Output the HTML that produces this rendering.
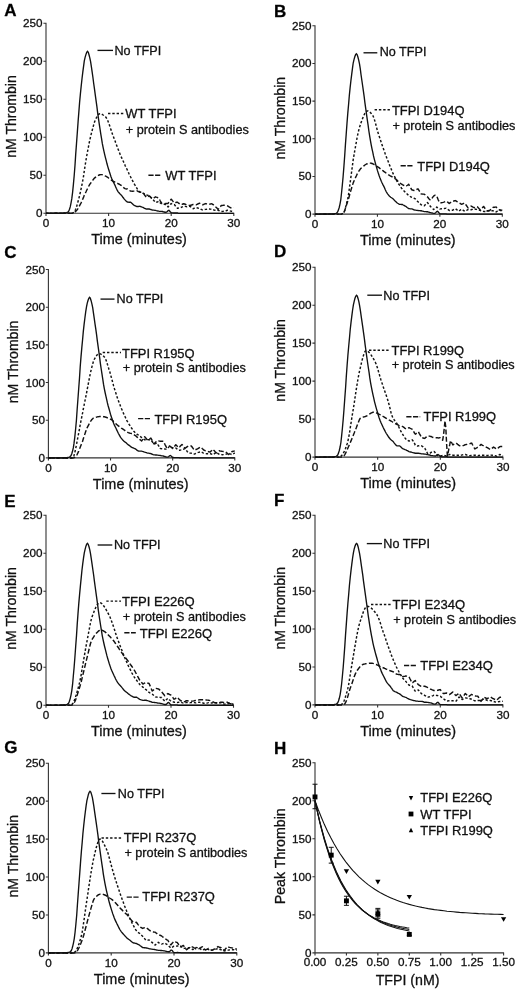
<!DOCTYPE html>
<html lang="en"><head><meta charset="utf-8"><title>Thrombin generation figure</title>
<style>html,body{margin:0;padding:0;background:#fff}body{width:520px;height:990px;overflow:hidden}svg{display:block;will-change:transform}</style>
</head><body>
<svg width="520" height="990" viewBox="0 0 520 990">
<rect width="520" height="990" fill="#fff"/>
<style>text{stroke:#111;stroke-width:0.3px;stroke-linejoin:round}</style>
<g font-family="'Liberation Sans', Arial, Helvetica, sans-serif" fill="#111" stroke="none">
<g id="panel-A">
<path d="M46.00 22.80V213.30H234.30M43.40 213.30H46.00M43.40 175.30H46.00M43.40 137.30H46.00M43.40 99.30H46.00M43.40 61.30H46.00M43.40 23.30H46.00M46.00 213.30v2.6M108.60 213.30v2.6M171.20 213.30v2.6M233.80 213.30v2.6" fill="none" stroke="#333" stroke-width="1.1"/>
<text x="42.50" y="217.30" font-size="11.7" text-anchor="end">0</text>
<text x="42.50" y="179.30" font-size="11.7" text-anchor="end">50</text>
<text x="42.50" y="141.30" font-size="11.7" text-anchor="end">100</text>
<text x="42.50" y="103.30" font-size="11.7" text-anchor="end">150</text>
<text x="42.50" y="65.30" font-size="11.7" text-anchor="end">200</text>
<text x="42.50" y="27.30" font-size="11.7" text-anchor="end">250</text>
<text x="46.00" y="227.10" font-size="11.7" text-anchor="middle">0</text>
<text x="108.60" y="227.10" font-size="11.7" text-anchor="middle">10</text>
<text x="171.20" y="227.10" font-size="11.7" text-anchor="middle">20</text>
<text x="233.80" y="227.10" font-size="11.7" text-anchor="middle">30</text>
<text x="139.05" y="244.40" font-size="14.4" text-anchor="middle" textLength="95.8" lengthAdjust="spacingAndGlyphs">Time (minutes)</text>
<text transform="translate(15.50 116.50) rotate(-90)" font-size="14.2" text-anchor="middle" textLength="82.6" lengthAdjust="spacingAndGlyphs">nM Thrombin</text>
<text x="4.3" y="16.3" font-size="17" font-weight="bold" fill="#000">A</text>
<path d="M46.0 213.3L46.8 213.3L47.6 213.3L48.3 213.3L49.1 213.3L49.9 213.3L50.7 213.3L51.5 213.2L52.3 213.2L53.0 213.2L53.8 213.2L54.6 213.2L55.4 213.2L56.2 213.2L57.0 213.2L57.7 213.2L58.5 213.2L59.3 213.2L60.1 213.2L60.9 213.1L61.7 213.1L62.4 213.1L63.2 213.1L64.0 213.1L64.8 213.0L65.6 212.9L66.3 212.8L67.1 212.5L67.9 212.0L68.7 211.2L69.5 209.3L70.3 206.7L71.0 203.2L71.8 198.7L72.6 192.3L73.4 184.4L74.2 175.5L75.0 165.3L75.7 154.4L76.5 143.6L77.3 132.7L78.1 121.6L78.9 111.4L79.6 102.4L80.4 93.9L81.2 86.0L82.0 78.7L82.8 72.2L83.6 66.1L84.3 60.9L85.1 57.4L85.9 54.6L86.7 52.4L87.5 51.4L88.3 52.3L89.0 54.8L89.8 57.9L90.6 61.7L91.4 66.8L92.2 72.4L93.0 78.0L93.7 83.5L94.5 89.2L95.3 95.1L96.1 100.8L96.9 106.6L97.6 112.4L98.4 118.1L99.2 123.6L100.0 128.9L100.8 134.1L101.6 138.9L102.3 143.4L103.1 147.4L103.9 151.1L104.7 154.6L105.5 157.8L106.3 160.9L107.0 163.8L107.8 166.6L108.6 169.2L109.4 171.8L110.2 174.2L110.9 176.4L111.7 178.4L112.5 180.2L113.3 181.9L114.1 183.5L114.9 185.1L115.6 186.8L116.4 188.5L117.2 190.1L118.0 191.6L118.8 192.6L119.6 193.4L120.3 194.2L121.1 194.9L121.9 195.9L122.7 197.0L123.5 198.0L124.3 199.1L125.0 199.9L125.8 200.7L126.6 201.4L127.4 202.0L128.2 202.1L128.9 202.2L129.7 202.2L130.5 202.2L131.3 202.8L132.1 203.5L132.9 204.2L133.6 205.0L134.4 205.4L135.2 205.8L136.0 206.2L136.8 206.6L137.6 206.5L138.3 206.5L139.1 206.4L139.9 206.3L140.7 206.6L141.5 206.9L142.2 207.2L143.0 207.4L143.8 207.9L144.6 208.3L145.4 208.7L146.2 209.1L146.9 209.0L147.7 209.0L148.5 209.0L149.3 209.0L150.1 209.3L150.9 209.5L151.6 209.8L152.4 210.0L153.2 210.1L154.0 210.2L154.8 210.3L155.6 210.4L156.3 210.6L157.1 210.8L157.9 211.0L158.7 211.2L159.5 211.3L160.2 211.3L161.0 211.3L161.8 211.3L162.6 211.5L163.4 211.8L164.2 212.0L164.9 212.2L165.7 212.2L166.5 212.1L167.3 211.4L168.1 210.5L168.9 210.3L169.6 211.0L170.4 212.0L171.2 212.6L172.0 212.8L172.8 212.9L173.5 213.0L174.3 213.0L175.1 213.0L175.9 213.0L176.7 213.0L177.5 213.0L178.2 213.3L179.0 213.3L179.8 213.3L180.6 213.3L181.4 213.3L182.2 213.3L182.9 213.3L183.7 213.3L184.5 213.3L185.3 213.3L186.1 213.3L186.9 213.3L187.6 213.3L188.4 213.3L189.2 213.3L190.0 213.3L190.8 213.3L191.5 213.3L192.3 213.3L193.1 213.3L193.9 213.3L194.7 213.3L195.5 213.3L196.2 213.3L197.0 213.3L197.8 213.3L198.6 213.3L199.4 213.3L200.2 213.3L200.9 213.3L201.7 213.3L202.5 213.3L203.3 213.3L204.1 213.3L204.8 213.3L205.6 213.3L206.4 213.3L207.2 213.3L208.0 213.3L208.8 213.3L209.5 213.3L210.3 213.3L211.1 213.3L211.9 213.3L212.7 213.3L213.5 213.3L214.2 213.3L215.0 213.3L215.8 213.3L216.6 213.3L217.4 213.3L218.2 213.3L218.9 213.3L219.7 213.3L220.5 213.3L221.3 213.3L222.1 213.3L222.8 213.3L223.6 213.3L224.4 213.3L225.2 213.3L226.0 213.3L226.8 213.3L227.5 213.3L228.3 213.3L229.1 213.3L229.9 213.3L230.7 213.3L231.5 213.3L232.2 213.3L233.0 213.3L233.8 213.3" fill="none" stroke="#111" stroke-width="1.35" stroke-linejoin="miter" stroke-miterlimit="6"/>
<path d="M46.0 213.3L46.8 213.3L47.6 213.3L48.3 213.3L49.1 213.3L49.9 213.3L50.7 213.3L51.5 213.3L52.3 213.3L53.0 213.3L53.8 213.3L54.6 213.3L55.4 213.3L56.2 213.3L57.0 213.3L57.7 213.3L58.5 213.3L59.3 213.3L60.1 213.3L60.9 213.3L61.7 213.3L62.4 213.3L63.2 213.3L64.0 213.3L64.8 213.3L65.6 213.3L66.3 213.3L67.1 213.3L67.9 213.3L68.7 213.3L69.5 213.3L70.3 213.3L71.0 213.3L71.8 213.3L72.6 213.2L73.4 212.7L74.2 211.9L75.0 210.8L75.7 209.2L76.5 206.9L77.3 204.2L78.1 201.3L78.9 198.5L79.6 195.4L80.4 192.0L81.2 188.3L82.0 184.5L82.8 180.4L83.6 175.8L84.3 170.8L85.1 165.7L85.9 160.7L86.7 156.0L87.5 151.7L88.3 147.7L89.0 143.8L89.8 140.1L90.6 136.6L91.4 133.3L92.2 130.3L93.0 127.4L93.7 124.7L94.5 122.1L95.3 120.0L96.1 118.3L96.9 116.9L97.6 115.7L98.4 114.6L99.2 113.9L100.0 113.7L100.8 113.9L101.6 114.1L102.3 114.5L103.1 115.0L103.9 115.5L104.7 116.2L105.5 116.8L106.3 117.8L107.0 119.1L107.8 120.8L108.6 122.8L109.4 125.0L110.2 127.3L110.9 129.6L111.7 132.0L112.5 134.3L113.3 136.4L114.1 138.5L114.9 140.5L115.6 142.6L116.4 144.7L117.2 146.8L118.0 148.9L118.8 150.9L119.6 152.9L120.3 154.8L121.1 156.6L121.9 158.4L122.7 160.1L123.5 161.8L124.3 163.5L125.0 165.2L125.8 166.9L126.6 168.5L127.4 170.1L128.2 171.8L128.9 173.5L129.7 175.1L130.5 176.7L131.3 178.3L132.1 179.9L132.9 181.4L133.6 182.7L134.4 184.1L135.2 185.5L136.0 186.8L136.8 188.1L137.6 189.4L138.3 190.4L139.1 191.2L139.9 191.9L140.7 192.3L141.5 192.7L142.2 193.0L143.0 193.3L143.8 193.6L144.6 194.0L145.4 194.3L146.2 194.8L146.9 195.1L147.7 195.3L148.5 195.6L149.3 195.9L150.1 196.6L150.9 197.4L151.6 198.2L152.4 198.9L153.2 199.8L154.0 200.7L154.8 201.6L155.6 202.5L156.3 202.2L157.1 202.0L157.9 201.7L158.7 201.3L159.5 202.1L160.2 202.8L161.0 203.4L161.8 203.9L162.6 204.0L163.4 204.1L164.2 204.2L164.9 204.3L165.7 204.9L166.5 205.6L167.3 206.2L168.1 206.9L168.9 206.1L169.6 205.2L170.4 204.4L171.2 203.6L172.0 203.9L172.8 204.1L173.5 204.4L174.3 204.6L175.1 205.5L175.9 206.5L176.7 207.4L177.5 208.3L178.2 208.1L179.0 208.0L179.8 207.8L180.6 207.6L181.4 207.3L182.2 206.9L182.9 206.6L183.7 206.2L184.5 206.3L185.3 206.4L186.1 206.6L186.9 206.7L187.6 206.6L188.4 206.5L189.2 206.4L190.0 206.3L190.8 206.9L191.5 207.5L192.3 208.1L193.1 208.7L193.9 208.4L194.7 208.1L195.5 207.9L196.2 207.6L197.0 207.8L197.8 208.1L198.6 208.3L199.4 208.5L200.2 208.9L200.9 209.3L201.7 209.6L202.5 209.9L203.3 209.8L204.1 209.7L204.8 209.5L205.6 209.4L206.4 209.3L207.2 209.1L208.0 209.0L208.8 208.9L209.5 209.0L210.3 209.1L211.1 209.2L211.9 209.3L212.7 209.5L213.5 209.8L214.2 210.1L215.0 210.3L215.8 210.3L216.6 210.3L217.4 210.3L218.2 210.3L218.9 210.6L219.7 211.0L220.5 211.3L221.3 211.6L222.1 211.5L222.8 211.4L223.6 211.3L224.4 211.2L225.2 211.0L226.0 210.8L226.8 210.5L227.5 210.3L228.3 210.5L229.1 210.7L229.9 210.9L230.7 211.1L231.5 211.2L232.2 211.4L233.0 211.5L233.8 211.6" fill="none" stroke="#111" stroke-width="1.45" stroke-dasharray="2.4 1.9" stroke-linejoin="round"/>
<path d="M46.0 213.3L46.8 213.3L47.6 213.3L48.3 213.3L49.1 213.3L49.9 213.3L50.7 213.3L51.5 213.3L52.3 213.3L53.0 213.3L53.8 213.3L54.6 213.3L55.4 213.3L56.2 213.3L57.0 213.3L57.7 213.3L58.5 213.3L59.3 213.3L60.1 213.3L60.9 213.3L61.7 213.3L62.4 213.3L63.2 213.3L64.0 213.3L64.8 213.3L65.6 213.3L66.3 213.3L67.1 213.3L67.9 213.3L68.7 213.3L69.5 213.3L70.3 213.3L71.0 213.3L71.8 213.3L72.6 213.3L73.4 213.0L74.2 212.6L75.0 212.0L75.7 211.3L76.5 210.6L77.3 209.6L78.1 208.4L78.9 207.1L79.6 205.6L80.4 204.2L81.2 202.6L82.0 200.9L82.8 199.0L83.6 197.1L84.3 195.3L85.1 193.6L85.9 192.0L86.7 190.3L87.5 188.7L88.3 187.1L89.0 185.7L89.8 184.4L90.6 183.2L91.4 182.1L92.2 181.0L93.0 179.9L93.7 179.0L94.5 178.1L95.3 177.4L96.1 176.8L96.9 176.3L97.6 175.8L98.4 175.4L99.2 175.0L100.0 174.7L100.8 174.6L101.6 174.6L102.3 174.7L103.1 175.0L103.9 175.3L104.7 175.7L105.5 176.1L106.3 176.4L107.0 176.9L107.8 177.4L108.6 178.0L109.4 178.5L110.2 179.1L110.9 179.7L111.7 180.3L112.5 180.8L113.3 181.3L114.1 181.7L114.9 182.1L115.6 182.5L116.4 182.9L117.2 183.2L118.0 183.6L118.8 184.0L119.6 184.4L120.3 184.8L121.1 185.3L121.9 185.9L122.7 186.6L123.5 187.4L124.3 188.2L125.0 188.6L125.8 188.9L126.6 189.0L127.4 188.9L128.2 189.4L128.9 189.9L129.7 190.5L130.5 191.1L131.3 191.1L132.1 191.2L132.9 191.2L133.6 191.1L134.4 191.1L135.2 191.1L136.0 191.0L136.8 190.8L137.6 191.1L138.3 191.5L139.1 191.8L139.9 192.2L140.7 192.2L141.5 192.3L142.2 192.4L143.0 192.5L143.8 193.7L144.6 195.0L145.4 196.2L146.2 197.4L146.9 197.0L147.7 196.7L148.5 196.3L149.3 195.9L150.1 196.6L150.9 197.4L151.6 198.1L152.4 198.9L153.2 198.3L154.0 197.8L154.8 197.3L155.6 196.8L156.3 197.1L157.1 197.4L157.9 197.7L158.7 198.0L159.5 199.4L160.2 200.8L161.0 202.1L161.8 203.4L162.6 203.5L163.4 203.5L164.2 203.5L164.9 203.6L165.7 203.5L166.5 203.5L167.3 203.4L168.1 203.4L168.9 202.3L169.6 201.3L170.4 200.3L171.2 199.2L172.0 200.1L172.8 201.1L173.5 202.0L174.3 202.9L175.1 202.7L175.9 202.5L176.7 202.3L177.5 202.2L178.2 202.8L179.0 203.4L179.8 204.0L180.6 204.6L181.4 204.4L182.2 204.2L182.9 204.0L183.7 203.8L184.5 204.0L185.3 204.3L186.1 204.6L186.9 204.9L187.6 205.1L188.4 205.2L189.2 205.4L190.0 205.5L190.8 205.2L191.5 205.0L192.3 204.7L193.1 204.5L193.9 204.5L194.7 204.6L195.5 204.7L196.2 204.8L197.0 204.4L197.8 204.0L198.6 203.6L199.4 203.2L200.2 203.6L200.9 204.0L201.7 204.4L202.5 204.8L203.3 204.5L204.1 204.2L204.8 203.9L205.6 203.6L206.4 203.8L207.2 203.9L208.0 204.1L208.8 204.3L209.5 204.2L210.3 204.0L211.1 203.9L211.9 203.8L212.7 204.3L213.5 204.9L214.2 205.5L215.0 206.0L215.8 206.9L216.6 207.7L217.4 208.5L218.2 209.4L218.9 208.4L219.7 207.4L220.5 206.5L221.3 205.5L222.1 205.5L222.8 205.4L223.6 205.3L224.4 205.3L225.2 205.4L226.0 205.6L226.8 205.7L227.5 205.9L228.3 206.4L229.1 206.9L229.9 207.3L230.7 207.8L231.5 207.7L232.2 207.6L233.0 207.4L233.8 207.3" fill="none" stroke="#111" stroke-width="1.45" stroke-dasharray="5 2.3" stroke-linejoin="round"/>
<path d="M97.5 50.4H113" stroke="#111" stroke-width="1.35"/>
<text x="114.5" y="55.1" font-size="12.6" textLength="46.7" lengthAdjust="spacingAndGlyphs">No TFPI</text>
<path d="M108 113.4H124.3" stroke="#111" stroke-width="1.45" stroke-dasharray="2.4 1.9"/>
<text x="125.3" y="118.0" font-size="12.9" textLength="51.3" lengthAdjust="spacingAndGlyphs">WT TFPI</text>
<text x="125.8" y="133.6" font-size="12.7" textLength="123" lengthAdjust="spacingAndGlyphs">+ protein S antibodies</text>
<path d="M148.4 175.3H160.3" stroke="#111" stroke-width="1.45" stroke-dasharray="5.2 1.5"/>
<text x="165.2" y="180.2" font-size="12.9" textLength="51.3" lengthAdjust="spacingAndGlyphs">WT TFPI</text>
</g>
<g id="panel-B">
<path d="M315.00 25.30V214.10H502.80M312.40 214.10H315.00M312.40 176.44H315.00M312.40 138.78H315.00M312.40 101.12H315.00M312.40 63.46H315.00M312.40 25.80H315.00M315.00 214.10v2.6M377.43 214.10v2.6M439.87 214.10v2.6M502.30 214.10v2.6" fill="none" stroke="#333" stroke-width="1.1"/>
<text x="311.50" y="218.10" font-size="11.7" text-anchor="end">0</text>
<text x="311.50" y="180.44" font-size="11.7" text-anchor="end">50</text>
<text x="311.50" y="142.78" font-size="11.7" text-anchor="end">100</text>
<text x="311.50" y="105.12" font-size="11.7" text-anchor="end">150</text>
<text x="311.50" y="67.46" font-size="11.7" text-anchor="end">200</text>
<text x="311.50" y="29.80" font-size="11.7" text-anchor="end">250</text>
<text x="315.00" y="227.90" font-size="11.7" text-anchor="middle">0</text>
<text x="377.43" y="227.90" font-size="11.7" text-anchor="middle">10</text>
<text x="439.87" y="227.90" font-size="11.7" text-anchor="middle">20</text>
<text x="502.30" y="227.90" font-size="11.7" text-anchor="middle">30</text>
<text x="407.80" y="245.20" font-size="14.4" text-anchor="middle" textLength="95.8" lengthAdjust="spacingAndGlyphs">Time (minutes)</text>
<text transform="translate(284.50 118.15) rotate(-90)" font-size="14.2" text-anchor="middle" textLength="82.6" lengthAdjust="spacingAndGlyphs">nM Thrombin</text>
<text x="274" y="16.5" font-size="17" font-weight="bold" fill="#000">B</text>
<path d="M315.0 214.1L315.8 214.1L316.6 214.1L317.3 214.1L318.1 214.1L318.9 214.1L319.7 214.1L320.5 214.0L321.2 214.0L322.0 214.0L322.8 214.0L323.6 214.0L324.4 214.0L325.1 214.0L325.9 214.0L326.7 214.0L327.5 214.0L328.3 214.0L329.0 214.0L329.8 213.9L330.6 213.9L331.4 213.9L332.2 213.9L332.9 213.9L333.7 213.8L334.5 213.7L335.3 213.6L336.1 213.3L336.9 212.8L337.6 212.0L338.4 210.1L339.2 207.5L340.0 204.1L340.8 199.6L341.5 193.3L342.3 185.4L343.1 176.7L343.9 166.6L344.7 155.7L345.4 145.1L346.2 134.2L347.0 123.3L347.8 113.1L348.6 104.2L349.3 95.8L350.1 87.9L350.9 80.7L351.7 74.3L352.5 68.2L353.2 63.0L354.0 59.6L354.8 56.8L355.6 54.7L356.4 53.7L357.1 54.5L357.9 57.0L358.7 60.1L359.5 63.9L360.3 68.9L361.0 74.5L361.8 80.0L362.6 85.5L363.4 91.2L364.2 96.9L364.9 102.6L365.7 108.4L366.5 114.1L367.3 119.8L368.1 125.2L368.8 130.5L369.6 135.6L370.4 140.4L371.2 144.8L372.0 148.8L372.8 152.4L373.5 155.9L374.3 159.1L375.1 162.2L375.9 165.1L376.7 167.8L377.4 170.4L378.2 172.9L379.0 175.3L379.8 177.5L380.6 179.5L381.3 181.3L382.1 183.0L382.9 184.6L383.7 186.1L384.5 187.8L385.2 189.5L386.0 191.2L386.8 192.7L387.6 193.8L388.4 194.8L389.1 195.7L389.9 196.6L390.7 197.2L391.5 197.7L392.3 198.2L393.0 198.7L393.8 199.6L394.6 200.5L395.4 201.3L396.2 202.0L396.9 202.7L397.7 203.3L398.5 203.8L399.3 204.4L400.1 204.4L400.8 204.4L401.6 204.5L402.4 204.5L403.2 205.0L404.0 205.4L404.7 205.9L405.5 206.2L406.3 206.8L407.1 207.5L407.9 208.0L408.6 208.6L409.4 208.7L410.2 208.8L411.0 208.9L411.8 208.9L412.6 209.2L413.3 209.5L414.1 209.8L414.9 210.1L415.7 210.2L416.5 210.3L417.2 210.4L418.0 210.5L418.8 210.6L419.6 210.6L420.4 210.7L421.1 210.7L421.9 211.0L422.7 211.2L423.5 211.4L424.3 211.6L425.0 211.6L425.8 211.6L426.6 211.7L427.4 211.7L428.2 212.0L428.9 212.2L429.7 212.5L430.5 212.7L431.3 212.9L432.1 213.0L432.8 213.2L433.6 213.3L434.4 213.3L435.2 213.1L436.0 212.4L436.7 211.5L437.5 211.3L438.3 212.0L439.1 213.1L439.9 213.7L440.6 213.8L441.4 213.8L442.2 213.8L443.0 213.8L443.8 213.8L444.5 213.8L445.3 213.8L446.1 213.8L446.9 214.1L447.7 214.1L448.5 214.1L449.2 214.1L450.0 214.1L450.8 214.1L451.6 214.1L452.4 214.1L453.1 214.1L453.9 214.1L454.7 214.1L455.5 214.1L456.3 214.1L457.0 214.1L457.8 214.1L458.6 214.1L459.4 214.1L460.2 214.1L460.9 214.1L461.7 214.1L462.5 214.1L463.3 214.1L464.1 214.1L464.8 214.1L465.6 214.1L466.4 214.1L467.2 214.1L468.0 214.1L468.7 214.1L469.5 214.1L470.3 214.1L471.1 214.1L471.9 214.1L472.6 214.1L473.4 214.1L474.2 214.1L475.0 214.1L475.8 214.1L476.5 214.1L477.3 214.1L478.1 214.1L478.9 214.1L479.7 214.1L480.4 214.1L481.2 214.1L482.0 214.1L482.8 214.1L483.6 214.1L484.4 214.1L485.1 214.1L485.9 214.1L486.7 214.1L487.5 214.1L488.3 214.1L489.0 214.1L489.8 214.1L490.6 214.1L491.4 214.1L492.2 214.1L492.9 214.1L493.7 214.1L494.5 214.1L495.3 214.1L496.1 214.1L496.8 214.1L497.6 214.1L498.4 214.1L499.2 214.1L500.0 214.1L500.7 214.1L501.5 214.1L502.3 214.1" fill="none" stroke="#111" stroke-width="1.35" stroke-linejoin="miter" stroke-miterlimit="6"/>
<path d="M315.0 214.1L315.8 214.1L316.6 214.1L317.3 214.1L318.1 214.1L318.9 214.1L319.7 214.1L320.5 214.1L321.2 214.1L322.0 214.1L322.8 214.1L323.6 214.1L324.4 214.1L325.1 214.1L325.9 214.1L326.7 214.1L327.5 214.1L328.3 214.1L329.0 214.1L329.8 214.1L330.6 214.1L331.4 214.1L332.2 214.1L332.9 214.1L333.7 214.1L334.5 214.1L335.3 214.1L336.1 214.1L336.9 214.1L337.6 214.1L338.4 214.1L339.2 214.1L340.0 214.1L340.8 214.1L341.5 214.1L342.3 213.8L343.1 213.3L343.9 212.3L344.7 210.5L345.4 208.0L346.2 205.0L347.0 201.8L347.8 198.4L348.6 194.1L349.3 188.9L350.1 183.2L350.9 177.1L351.7 171.0L352.5 165.1L353.2 159.7L354.0 155.1L354.8 150.5L355.6 146.0L356.4 141.7L357.1 137.6L357.9 133.8L358.7 130.4L359.5 127.4L360.3 125.1L361.0 122.8L361.8 120.6L362.6 118.4L363.4 116.5L364.2 114.7L364.9 113.2L365.7 112.0L366.5 111.3L367.3 110.9L368.1 111.0L368.8 111.3L369.6 111.9L370.4 112.6L371.2 113.5L372.0 114.5L372.8 115.5L373.5 117.0L374.3 119.2L375.1 121.9L375.9 124.8L376.7 127.8L377.4 130.7L378.2 133.2L379.0 135.7L379.8 138.1L380.6 140.4L381.3 142.8L382.1 145.1L382.9 147.3L383.7 149.5L384.5 151.7L385.2 153.8L386.0 155.9L386.8 158.0L387.6 160.0L388.4 162.0L389.1 164.0L389.9 165.9L390.7 167.8L391.5 169.7L392.3 171.6L393.0 173.4L393.8 175.1L394.6 176.7L395.4 178.2L396.2 179.7L396.9 181.1L397.7 182.5L398.5 183.8L399.3 184.9L400.1 186.0L400.8 187.1L401.6 188.2L402.4 189.2L403.2 190.1L404.0 190.9L404.7 191.6L405.5 192.3L406.3 193.1L407.1 193.9L407.9 194.7L408.6 195.5L409.4 196.0L410.2 196.5L411.0 197.0L411.8 197.4L412.6 197.8L413.3 198.0L414.1 198.3L414.9 198.6L415.7 199.3L416.5 200.1L417.2 200.9L418.0 201.7L418.8 202.5L419.6 203.3L420.4 204.1L421.1 204.8L421.9 205.0L422.7 205.3L423.5 205.5L424.3 205.7L425.0 204.9L425.8 204.1L426.6 203.3L427.4 202.6L428.2 203.5L428.9 204.5L429.7 205.5L430.5 206.5L431.3 207.3L432.1 208.1L432.8 208.8L433.6 209.5L434.4 208.9L435.2 208.3L436.0 207.7L436.7 207.1L437.5 207.7L438.3 208.2L439.1 208.6L439.9 209.0L440.6 208.9L441.4 208.8L442.2 208.7L443.0 208.7L443.8 208.6L444.5 208.5L445.3 208.4L446.1 208.3L446.9 208.9L447.7 209.4L448.5 209.9L449.2 210.4L450.0 210.4L450.8 210.4L451.6 210.3L452.4 210.3L453.1 209.9L453.9 209.5L454.7 209.1L455.5 208.7L456.3 209.3L457.0 209.9L457.8 210.5L458.6 211.1L459.4 210.6L460.2 210.2L460.9 209.7L461.7 209.2L462.5 209.8L463.3 210.3L464.1 210.8L464.8 211.3L465.6 210.9L466.4 210.5L467.2 210.0L468.0 209.6L468.7 209.6L469.5 209.6L470.3 209.7L471.1 209.7L471.9 209.5L472.6 209.4L473.4 209.2L474.2 209.1L475.0 209.2L475.8 209.3L476.5 209.4L477.3 209.5L478.1 209.7L478.9 210.0L479.7 210.2L480.4 210.5L481.2 210.7L482.0 210.9L482.8 211.2L483.6 211.4L484.4 211.4L485.1 211.5L485.9 211.5L486.7 211.6L487.5 211.3L488.3 211.1L489.0 210.9L489.8 210.7L490.6 210.7L491.4 210.8L492.2 210.8L492.9 210.8L493.7 211.1L494.5 211.4L495.3 211.7L496.1 211.9L496.8 211.5L497.6 211.0L498.4 210.5L499.2 210.1L500.0 210.3L500.7 210.6L501.5 210.8L502.3 211.1" fill="none" stroke="#111" stroke-width="1.45" stroke-dasharray="2.4 1.9" stroke-linejoin="round"/>
<path d="M315.0 214.1L315.8 214.1L316.6 214.1L317.3 214.1L318.1 214.1L318.9 214.1L319.7 214.1L320.5 214.1L321.2 214.1L322.0 214.1L322.8 214.1L323.6 214.1L324.4 214.1L325.1 214.1L325.9 214.1L326.7 214.1L327.5 214.1L328.3 214.1L329.0 214.1L329.8 214.1L330.6 214.1L331.4 214.1L332.2 214.1L332.9 214.1L333.7 214.1L334.5 214.1L335.3 214.1L336.1 214.1L336.9 214.1L337.6 214.1L338.4 214.1L339.2 214.1L340.0 214.1L340.8 214.1L341.5 214.1L342.3 213.8L343.1 213.3L343.9 212.4L344.7 210.7L345.4 208.4L346.2 206.0L347.0 203.5L347.8 201.1L348.6 198.6L349.3 196.0L350.1 193.2L350.9 190.4L351.7 187.7L352.5 185.1L353.2 182.9L354.0 181.0L354.8 179.2L355.6 177.4L356.4 175.8L357.1 174.2L357.9 172.7L358.7 171.4L359.5 170.2L360.3 169.1L361.0 168.3L361.8 167.6L362.6 166.9L363.4 166.3L364.2 165.6L364.9 165.0L365.7 164.5L366.5 164.0L367.3 163.7L368.1 163.4L368.8 163.1L369.6 163.0L370.4 163.1L371.2 163.2L372.0 163.5L372.8 163.8L373.5 164.2L374.3 164.7L375.1 165.2L375.9 165.7L376.7 166.2L377.4 166.6L378.2 167.2L379.0 167.7L379.8 168.3L380.6 168.9L381.3 169.5L382.1 170.1L382.9 170.7L383.7 171.3L384.5 171.9L385.2 172.4L386.0 173.0L386.8 173.6L387.6 174.1L388.4 174.7L389.1 175.2L389.9 175.7L390.7 176.1L391.5 176.5L392.3 176.9L393.0 177.3L393.8 177.8L394.6 178.3L395.4 178.8L396.2 179.4L396.9 180.1L397.7 180.9L398.5 181.7L399.3 182.6L400.1 183.1L400.8 183.6L401.6 184.1L402.4 184.7L403.2 185.1L404.0 185.5L404.7 186.0L405.5 186.4L406.3 186.0L407.1 185.5L407.9 185.0L408.6 184.2L409.4 185.7L410.2 187.1L411.0 188.5L411.8 189.8L412.6 190.0L413.3 190.3L414.1 190.5L414.9 190.7L415.7 190.2L416.5 189.7L417.2 189.2L418.0 188.8L418.8 190.1L419.6 191.4L420.4 192.6L421.1 193.9L421.9 194.0L422.7 194.1L423.5 194.1L424.3 194.2L425.0 194.8L425.8 195.5L426.6 196.2L427.4 196.8L428.2 197.8L428.9 198.7L429.7 199.5L430.5 200.2L431.3 199.3L432.1 198.2L432.8 197.1L433.6 196.1L434.4 195.5L435.2 195.3L436.0 195.5L436.7 195.9L437.5 198.0L438.3 200.0L439.1 201.7L439.9 203.0L440.6 202.9L441.4 202.7L442.2 202.6L443.0 202.4L443.8 202.1L444.5 201.8L445.3 201.4L446.1 201.1L446.9 201.6L447.7 202.2L448.5 202.8L449.2 203.5L450.0 202.9L450.8 202.4L451.6 201.9L452.4 201.4L453.1 201.2L453.9 201.0L454.7 200.8L455.5 200.6L456.3 201.1L457.0 201.6L457.8 202.1L458.6 202.6L459.4 203.1L460.2 203.5L460.9 203.9L461.7 204.3L462.5 203.9L463.3 203.6L464.1 203.3L464.8 203.0L465.6 204.3L466.4 205.5L467.2 206.7L468.0 207.9L468.7 207.5L469.5 207.0L470.3 206.5L471.1 206.0L471.9 206.5L472.6 206.9L473.4 207.3L474.2 207.7L475.0 207.5L475.8 207.2L476.5 207.0L477.3 206.7L478.1 207.6L478.9 208.4L479.7 209.2L480.4 210.0L481.2 209.1L482.0 208.2L482.8 207.3L483.6 206.4L484.4 207.5L485.1 208.6L485.9 209.6L486.7 210.7L487.5 210.6L488.3 210.6L489.0 210.5L489.8 210.5L490.6 209.6L491.4 208.9L492.2 208.1L492.9 207.4L493.7 207.3L494.5 207.2L495.3 207.1L496.1 207.0L496.8 207.8L497.6 208.5L498.4 209.2L499.2 209.8L500.0 209.9L500.7 210.0L501.5 210.1L502.3 210.2" fill="none" stroke="#111" stroke-width="1.45" stroke-dasharray="5 2.3" stroke-linejoin="round"/>
<path d="M363.5 52.8H377.3" stroke="#111" stroke-width="1.35"/>
<text x="379.7" y="56.4" font-size="12.6" textLength="46.7" lengthAdjust="spacingAndGlyphs">No TFPI</text>
<path d="M374.6 109.7H391" stroke="#111" stroke-width="1.45" stroke-dasharray="2.4 1.9"/>
<text x="391.9" y="114.7" font-size="12.9" textLength="72.6" lengthAdjust="spacingAndGlyphs">TFPI D194Q</text>
<text x="392.4" y="130.0" font-size="12.7" textLength="123" lengthAdjust="spacingAndGlyphs">+ protein S antibodies</text>
<path d="M400.6 165.7H413.9" stroke="#111" stroke-width="1.45" stroke-dasharray="5.2 1.5"/>
<text x="417.3" y="170.6" font-size="12.9" textLength="72.6" lengthAdjust="spacingAndGlyphs">TFPI D194Q</text>
</g>
<g id="panel-C">
<path d="M48.40 269.00V457.90H235.30M45.80 457.90H48.40M45.80 420.22H48.40M45.80 382.54H48.40M45.80 344.86H48.40M45.80 307.18H48.40M45.80 269.50H48.40M48.40 457.90v2.6M110.53 457.90v2.6M172.67 457.90v2.6M234.80 457.90v2.6" fill="none" stroke="#333" stroke-width="1.1"/>
<text x="44.90" y="461.90" font-size="11.7" text-anchor="end">0</text>
<text x="44.90" y="424.22" font-size="11.7" text-anchor="end">50</text>
<text x="44.90" y="386.54" font-size="11.7" text-anchor="end">100</text>
<text x="44.90" y="348.86" font-size="11.7" text-anchor="end">150</text>
<text x="44.90" y="311.18" font-size="11.7" text-anchor="end">200</text>
<text x="44.90" y="273.50" font-size="11.7" text-anchor="end">250</text>
<text x="48.40" y="471.70" font-size="11.7" text-anchor="middle">0</text>
<text x="110.53" y="471.70" font-size="11.7" text-anchor="middle">10</text>
<text x="172.67" y="471.70" font-size="11.7" text-anchor="middle">20</text>
<text x="234.80" y="471.70" font-size="11.7" text-anchor="middle">30</text>
<text x="140.75" y="489.00" font-size="14.4" text-anchor="middle" textLength="95.8" lengthAdjust="spacingAndGlyphs">Time (minutes)</text>
<text transform="translate(17.90 361.90) rotate(-90)" font-size="14.2" text-anchor="middle" textLength="82.6" lengthAdjust="spacingAndGlyphs">nM Thrombin</text>
<text x="4.3" y="257.5" font-size="17" font-weight="bold" fill="#000">C</text>
<path d="M48.4 457.9L49.2 457.9L50.0 457.9L50.7 457.9L51.5 457.9L52.3 457.9L53.1 457.9L53.8 457.8L54.6 457.8L55.4 457.8L56.2 457.8L56.9 457.8L57.7 457.8L58.5 457.8L59.3 457.8L60.0 457.8L60.8 457.8L61.6 457.8L62.4 457.8L63.2 457.7L63.9 457.7L64.7 457.7L65.5 457.7L66.3 457.7L67.0 457.6L67.8 457.5L68.6 457.4L69.4 457.1L70.1 456.6L70.9 455.8L71.7 453.9L72.5 451.3L73.3 447.9L74.0 443.4L74.8 437.1L75.6 429.2L76.4 420.5L77.1 410.3L77.9 399.5L78.7 388.8L79.5 378.0L80.2 367.0L81.0 356.9L81.8 347.9L82.6 339.5L83.3 331.6L84.1 324.4L84.9 318.0L85.7 311.9L86.5 306.8L87.2 303.3L88.0 300.5L88.8 298.4L89.6 297.4L90.3 298.2L91.1 300.7L91.9 303.8L92.7 307.6L93.4 312.6L94.2 318.2L95.0 323.8L95.8 329.2L96.6 334.9L97.3 340.6L98.1 346.4L98.9 352.1L99.7 357.9L100.4 363.6L101.2 369.0L102.0 374.2L102.8 379.3L103.5 384.2L104.3 388.6L105.1 392.5L105.9 396.2L106.7 399.6L107.4 402.9L108.2 406.0L109.0 408.8L109.8 411.6L110.5 414.2L111.3 416.7L112.1 419.1L112.9 421.3L113.6 423.3L114.4 425.1L115.2 426.7L116.0 428.3L116.7 429.9L117.5 431.5L118.3 433.2L119.1 434.7L119.9 436.1L120.6 437.3L121.4 438.3L122.2 439.3L123.0 440.3L123.7 441.0L124.5 441.6L125.3 442.2L126.1 442.8L126.8 443.5L127.6 444.2L128.4 444.9L129.2 445.4L130.0 446.0L130.7 446.6L131.5 447.1L132.3 447.7L133.1 447.9L133.8 448.2L134.6 448.5L135.4 448.9L136.2 449.5L136.9 450.1L137.7 450.6L138.5 451.1L139.3 451.1L140.0 451.1L140.8 451.1L141.6 451.1L142.4 451.4L143.2 451.6L143.9 451.9L144.7 452.1L145.5 452.4L146.3 452.6L147.0 452.9L147.8 453.1L148.6 453.2L149.4 453.4L150.1 453.5L150.9 453.7L151.7 454.0L152.5 454.3L153.2 454.6L154.0 454.9L154.8 454.9L155.6 455.0L156.4 455.0L157.1 455.1L157.9 455.2L158.7 455.3L159.5 455.4L160.2 455.5L161.0 455.6L161.8 455.8L162.6 455.9L163.3 456.0L164.1 456.3L164.9 456.5L165.7 456.8L166.5 457.0L167.2 457.1L168.0 457.1L168.8 456.5L169.6 455.7L170.3 455.4L171.1 455.9L171.9 456.9L172.7 457.4L173.4 457.5L174.2 457.6L175.0 457.6L175.8 457.6L176.6 457.6L177.3 457.6L178.1 457.6L178.9 457.6L179.7 457.9L180.4 457.9L181.2 457.9L182.0 457.9L182.8 457.9L183.5 457.9L184.3 457.9L185.1 457.9L185.9 457.9L186.6 457.9L187.4 457.9L188.2 457.9L189.0 457.9L189.8 457.9L190.5 457.9L191.3 457.9L192.1 457.9L192.9 457.9L193.6 457.9L194.4 457.9L195.2 457.9L196.0 457.9L196.7 457.9L197.5 457.9L198.3 457.9L199.1 457.9L199.9 457.9L200.6 457.9L201.4 457.9L202.2 457.9L203.0 457.9L203.7 457.9L204.5 457.9L205.3 457.9L206.1 457.9L206.8 457.9L207.6 457.9L208.4 457.9L209.2 457.9L209.9 457.9L210.7 457.9L211.5 457.9L212.3 457.9L213.1 457.9L213.8 457.9L214.6 457.9L215.4 457.9L216.2 457.9L216.9 457.9L217.7 457.9L218.5 457.9L219.3 457.9L220.0 457.9L220.8 457.9L221.6 457.9L222.4 457.9L223.2 457.9L223.9 457.9L224.7 457.9L225.5 457.9L226.3 457.9L227.0 457.9L227.8 457.9L228.6 457.9L229.4 457.9L230.1 457.9L230.9 457.9L231.7 457.9L232.5 457.9L233.2 457.9L234.0 457.9L234.8 457.9" fill="none" stroke="#111" stroke-width="1.35" stroke-linejoin="miter" stroke-miterlimit="6"/>
<path d="M48.4 457.9L49.2 457.9L50.0 457.9L50.7 457.9L51.5 457.9L52.3 457.9L53.1 457.9L53.8 457.9L54.6 457.9L55.4 457.9L56.2 457.9L56.9 457.9L57.7 457.9L58.5 457.9L59.3 457.9L60.0 457.9L60.8 457.9L61.6 457.9L62.4 457.9L63.2 457.9L63.9 457.9L64.7 457.9L65.5 457.9L66.3 457.9L67.0 457.9L67.8 457.9L68.6 457.9L69.4 457.9L70.1 457.9L70.9 457.9L71.7 457.9L72.5 457.7L73.3 456.9L74.0 455.5L74.8 452.7L75.6 448.9L76.4 445.1L77.1 441.3L77.9 437.2L78.7 433.0L79.5 428.8L80.2 424.7L81.0 420.7L81.8 416.8L82.6 412.9L83.3 409.0L84.1 405.1L84.9 401.2L85.7 397.2L86.5 393.3L87.2 389.4L88.0 385.4L88.8 381.2L89.6 377.1L90.3 373.4L91.1 370.1L91.9 366.9L92.7 364.0L93.4 361.4L94.2 359.5L95.0 358.1L95.8 356.8L96.6 355.6L97.3 354.6L98.1 353.9L98.9 353.6L99.7 353.7L100.4 353.9L101.2 354.3L102.0 354.8L102.8 355.4L103.5 356.1L104.3 356.9L105.1 358.0L105.9 359.7L106.7 361.9L107.4 364.3L108.2 366.8L109.0 369.4L109.8 371.8L110.5 374.4L111.3 377.3L112.1 380.2L112.9 383.1L113.6 385.9L114.4 388.6L115.2 391.1L116.0 393.5L116.7 395.9L117.5 398.2L118.3 400.4L119.1 402.5L119.9 404.6L120.6 406.6L121.4 408.5L122.2 410.3L123.0 412.1L123.7 413.9L124.5 415.6L125.3 417.2L126.1 418.8L126.8 420.4L127.6 421.8L128.4 423.2L129.2 424.5L130.0 425.7L130.7 426.9L131.5 428.0L132.3 429.1L133.1 430.2L133.8 431.2L134.6 432.1L135.4 432.9L136.2 433.6L136.9 434.2L137.7 434.7L138.5 435.1L139.3 435.7L140.0 436.3L140.8 436.9L141.6 437.5L142.4 438.0L143.2 438.6L143.9 439.2L144.7 439.8L145.5 439.8L146.3 439.8L147.0 439.7L147.8 439.6L148.6 439.7L149.4 439.9L150.1 440.0L150.9 440.1L151.7 441.1L152.5 442.0L153.2 442.9L154.0 443.9L154.8 443.7L155.6 443.5L156.4 443.4L157.1 443.2L157.9 444.6L158.7 445.9L159.5 447.2L160.2 448.5L161.0 448.6L161.8 448.7L162.6 448.8L163.3 448.8L164.1 448.9L164.9 449.0L165.7 449.1L166.5 449.2L167.2 448.5L168.0 447.7L168.8 447.0L169.6 446.2L170.3 446.6L171.1 447.0L171.9 447.4L172.7 447.7L173.4 447.8L174.2 447.9L175.0 447.9L175.8 448.0L176.6 448.6L177.3 449.1L178.1 449.7L178.9 450.3L179.7 450.2L180.4 450.1L181.2 449.9L182.0 449.8L182.8 449.5L183.5 449.2L184.3 448.9L185.1 448.6L185.9 449.6L186.6 450.6L187.4 451.7L188.2 452.7L189.0 452.8L189.8 453.0L190.5 453.1L191.3 453.2L192.1 453.4L192.9 453.6L193.6 453.9L194.4 454.0L195.2 453.7L196.0 453.3L196.7 453.0L197.5 452.7L198.3 452.4L199.1 452.2L199.9 451.9L200.6 451.7L201.4 452.1L202.2 452.4L203.0 452.8L203.7 453.1L204.5 453.3L205.3 453.4L206.1 453.6L206.8 453.8L207.6 453.7L208.4 453.7L209.2 453.6L209.9 453.5L210.7 453.8L211.5 454.1L212.3 454.4L213.1 454.7L213.8 454.1L214.6 453.5L215.4 452.9L216.2 452.3L216.9 452.8L217.7 453.3L218.5 453.8L219.3 454.3L220.0 454.4L220.8 454.5L221.6 454.6L222.4 454.7L223.2 454.6L223.9 454.6L224.7 454.5L225.5 454.5L226.3 454.1L227.0 453.8L227.8 453.4L228.6 453.0L229.4 453.4L230.1 453.8L230.9 454.2L231.7 454.6L232.5 454.2L233.2 453.8L234.0 453.4L234.8 453.0" fill="none" stroke="#111" stroke-width="1.45" stroke-dasharray="2.4 1.9" stroke-linejoin="round"/>
<path d="M48.4 457.9L49.2 457.9L50.0 457.9L50.7 457.9L51.5 457.9L52.3 457.9L53.1 457.9L53.8 457.9L54.6 457.9L55.4 457.9L56.2 457.9L56.9 457.9L57.7 457.9L58.5 457.9L59.3 457.9L60.0 457.9L60.8 457.9L61.6 457.9L62.4 457.9L63.2 457.9L63.9 457.9L64.7 457.9L65.5 457.9L66.3 457.9L67.0 457.9L67.8 457.9L68.6 457.9L69.4 457.9L70.1 457.9L70.9 457.9L71.7 457.9L72.5 457.9L73.3 457.9L74.0 457.7L74.8 457.3L75.6 456.8L76.4 455.8L77.1 454.5L77.9 452.9L78.7 451.1L79.5 449.1L80.2 447.2L81.0 445.2L81.8 443.3L82.6 441.2L83.3 438.8L84.1 436.4L84.9 433.9L85.7 431.6L86.5 429.5L87.2 427.6L88.0 426.1L88.8 424.6L89.6 423.2L90.3 421.8L91.1 420.6L91.9 419.5L92.7 418.7L93.4 418.1L94.2 417.8L95.0 417.5L95.8 417.3L96.6 417.1L97.3 416.9L98.1 416.7L98.9 416.6L99.7 416.5L100.4 416.5L101.2 416.5L102.0 416.5L102.8 416.5L103.5 416.7L104.3 416.8L105.1 417.0L105.9 417.2L106.7 417.5L107.4 417.8L108.2 418.1L109.0 418.4L109.8 418.8L110.5 419.2L111.3 419.5L112.1 420.1L112.9 420.8L113.6 421.7L114.4 422.5L115.2 423.2L116.0 423.9L116.7 424.5L117.5 425.2L118.3 425.8L119.1 426.4L119.9 427.0L120.6 427.6L121.4 428.2L122.2 428.7L123.0 429.2L123.7 429.7L124.5 430.2L125.3 430.8L126.1 431.5L126.8 431.9L127.6 432.3L128.4 432.7L129.2 432.9L130.0 433.2L130.7 433.4L131.5 433.5L132.3 433.5L133.1 434.0L133.8 434.5L134.6 435.1L135.4 435.6L136.2 436.2L136.9 436.9L137.7 437.6L138.5 438.3L139.3 439.0L140.0 439.6L140.8 440.3L141.6 441.0L142.4 439.9L143.2 438.9L143.9 437.8L144.7 436.8L145.5 437.7L146.3 438.6L147.0 439.5L147.8 440.5L148.6 439.9L149.4 439.3L150.1 438.7L150.9 438.1L151.7 439.6L152.5 441.1L153.2 442.5L154.0 444.0L154.8 443.1L155.6 442.3L156.4 441.5L157.1 440.6L157.9 440.8L158.7 440.9L159.5 441.1L160.2 441.2L161.0 441.2L161.8 441.2L162.6 441.2L163.3 441.2L164.1 442.7L164.9 444.3L165.7 445.8L166.5 447.3L167.2 447.0L168.0 446.6L168.8 446.2L169.6 445.9L170.3 446.5L171.1 447.2L171.9 447.8L172.7 448.5L173.4 447.6L174.2 446.7L175.0 445.8L175.8 444.8L176.6 445.6L177.3 446.3L178.1 447.0L178.9 447.7L179.7 446.9L180.4 446.0L181.2 445.2L182.0 444.4L182.8 445.4L183.5 446.3L184.3 447.3L185.1 448.2L185.9 447.7L186.6 447.2L187.4 446.7L188.2 446.2L189.0 446.1L189.8 446.1L190.5 446.0L191.3 446.0L192.1 447.0L192.9 448.1L193.6 449.2L194.4 450.2L195.2 449.9L196.0 449.5L196.7 449.2L197.5 448.9L198.3 448.4L199.1 447.9L199.9 447.4L200.6 447.0L201.4 447.7L202.2 448.5L203.0 449.2L203.7 450.0L204.5 450.3L205.3 450.7L206.1 451.0L206.8 451.3L207.6 451.5L208.4 451.7L209.2 451.9L209.9 452.1L210.7 451.4L211.5 450.7L212.3 449.9L213.1 449.2L213.8 450.2L214.6 451.1L215.4 452.1L216.2 453.0L216.9 452.5L217.7 451.9L218.5 451.4L219.3 450.8L220.0 451.0L220.8 451.1L221.6 451.2L222.4 451.4L223.2 451.5L223.9 451.5L224.7 451.6L225.5 451.7L226.3 452.4L227.0 453.1L227.8 453.7L228.6 454.4L229.4 453.7L230.1 453.0L230.9 452.4L231.7 451.8L232.5 451.5L233.2 451.3L234.0 451.1L234.8 450.9" fill="none" stroke="#111" stroke-width="1.45" stroke-dasharray="5 2.3" stroke-linejoin="round"/>
<path d="M100.5 299.1H114.5" stroke="#111" stroke-width="1.35"/>
<text x="116.6" y="303.4" font-size="12.6" textLength="46.7" lengthAdjust="spacingAndGlyphs">No TFPI</text>
<path d="M102.7 352.5H121" stroke="#111" stroke-width="1.45" stroke-dasharray="2.4 1.9"/>
<text x="122" y="357.5" font-size="12.9" textLength="72.6" lengthAdjust="spacingAndGlyphs">TFPI R195Q</text>
<text x="122.8" y="371.7" font-size="12.7" textLength="123" lengthAdjust="spacingAndGlyphs">+ protein S antibodies</text>
<path d="M138.1 418.6H150.9" stroke="#111" stroke-width="1.45" stroke-dasharray="5.2 1.5"/>
<text x="154.4" y="423.6" font-size="12.9" textLength="72.6" lengthAdjust="spacingAndGlyphs">TFPI R195Q</text>
</g>
<g id="panel-D">
<path d="M315.00 266.70V457.10H503.50M312.40 457.10H315.00M312.40 419.12H315.00M312.40 381.14H315.00M312.40 343.16H315.00M312.40 305.18H315.00M312.40 267.20H315.00M315.00 457.10v2.6M377.67 457.10v2.6M440.33 457.10v2.6M503.00 457.10v2.6" fill="none" stroke="#333" stroke-width="1.1"/>
<text x="311.50" y="461.10" font-size="11.7" text-anchor="end">0</text>
<text x="311.50" y="423.12" font-size="11.7" text-anchor="end">50</text>
<text x="311.50" y="385.14" font-size="11.7" text-anchor="end">100</text>
<text x="311.50" y="347.16" font-size="11.7" text-anchor="end">150</text>
<text x="311.50" y="309.18" font-size="11.7" text-anchor="end">200</text>
<text x="311.50" y="271.20" font-size="11.7" text-anchor="end">250</text>
<text x="315.00" y="470.90" font-size="11.7" text-anchor="middle">0</text>
<text x="377.67" y="470.90" font-size="11.7" text-anchor="middle">10</text>
<text x="440.33" y="470.90" font-size="11.7" text-anchor="middle">20</text>
<text x="503.00" y="470.90" font-size="11.7" text-anchor="middle">30</text>
<text x="408.15" y="488.20" font-size="14.4" text-anchor="middle" textLength="95.8" lengthAdjust="spacingAndGlyphs">Time (minutes)</text>
<text transform="translate(284.50 360.35) rotate(-90)" font-size="14.2" text-anchor="middle" textLength="82.6" lengthAdjust="spacingAndGlyphs">nM Thrombin</text>
<text x="274" y="257.2" font-size="17" font-weight="bold" fill="#000">D</text>
<path d="M315.0 457.1L315.8 457.1L316.6 457.1L317.4 457.1L318.1 457.1L318.9 457.1L319.7 457.1L320.5 457.0L321.3 457.0L322.1 457.0L322.8 457.0L323.6 457.0L324.4 457.0L325.2 457.0L326.0 457.0L326.8 457.0L327.5 457.0L328.3 457.0L329.1 457.0L329.9 456.9L330.7 456.9L331.4 456.9L332.2 456.9L333.0 456.9L333.8 456.8L334.6 456.7L335.4 456.6L336.1 456.3L336.9 455.8L337.7 455.0L338.5 453.1L339.3 450.5L340.1 447.0L340.9 442.5L341.6 436.1L342.4 428.2L343.2 419.4L344.0 409.2L344.8 398.2L345.6 387.5L346.3 376.5L347.1 365.5L347.9 355.3L348.7 346.3L349.5 337.8L350.2 329.8L351.0 322.6L351.8 316.1L352.6 310.0L353.4 304.8L354.2 301.3L354.9 298.5L355.7 296.3L356.5 295.3L357.3 296.2L358.1 298.7L358.9 301.8L359.6 305.6L360.4 310.7L361.2 316.3L362.0 321.9L362.8 327.4L363.6 333.1L364.4 338.9L365.1 344.7L365.9 350.5L366.7 356.3L367.5 362.0L368.3 367.5L369.1 372.7L369.8 377.9L370.6 382.8L371.4 387.2L372.2 391.2L373.0 394.9L373.8 398.4L374.5 401.6L375.3 404.7L376.1 407.6L376.9 410.4L377.7 413.0L378.4 415.6L379.2 418.0L380.0 420.2L380.8 422.2L381.6 424.0L382.4 425.7L383.1 427.3L383.9 428.9L384.7 430.4L385.5 432.0L386.3 433.5L387.1 434.7L387.9 435.9L388.6 437.0L389.4 438.0L390.2 439.0L391.0 439.8L391.8 440.4L392.6 441.1L393.3 441.7L394.1 442.8L394.9 443.8L395.7 444.8L396.5 445.7L397.2 445.8L398.0 445.9L398.8 445.8L399.6 445.8L400.4 446.5L401.2 447.2L401.9 447.9L402.7 448.6L403.5 449.0L404.3 449.3L405.1 449.6L405.9 449.8L406.6 450.3L407.4 450.7L408.2 451.1L409.0 451.6L409.8 451.8L410.6 452.0L411.4 452.2L412.1 452.4L412.9 452.6L413.7 452.8L414.5 453.0L415.3 453.2L416.1 453.2L416.8 453.2L417.6 453.2L418.4 453.2L419.2 453.4L420.0 453.5L420.8 453.6L421.5 453.8L422.3 453.8L423.1 453.9L423.9 454.0L424.7 454.1L425.4 454.2L426.2 454.3L427.0 454.5L427.8 454.6L428.6 454.8L429.4 455.0L430.1 455.2L430.9 455.5L431.7 455.6L432.5 455.7L433.3 455.8L434.1 455.9L434.9 456.0L435.6 456.1L436.4 455.5L437.2 454.9L438.0 454.5L438.8 455.0L439.6 455.9L440.3 456.4L441.1 456.6L441.9 456.8L442.7 456.8L443.5 456.8L444.2 456.8L445.0 456.8L445.8 456.8L446.6 456.7L447.4 457.1L448.2 457.1L448.9 457.1L449.7 457.1L450.5 457.1L451.3 457.1L452.1 457.1L452.9 457.1L453.6 457.1L454.4 457.1L455.2 457.1L456.0 457.1L456.8 457.1L457.6 457.1L458.4 457.1L459.1 457.1L459.9 457.1L460.7 457.1L461.5 457.1L462.3 457.1L463.1 457.1L463.8 457.1L464.6 457.1L465.4 457.1L466.2 457.1L467.0 457.1L467.8 457.1L468.5 457.1L469.3 457.1L470.1 457.1L470.9 457.1L471.7 457.1L472.4 457.1L473.2 457.1L474.0 457.1L474.8 457.1L475.6 457.1L476.4 457.1L477.1 457.1L477.9 457.1L478.7 457.1L479.5 457.1L480.3 457.1L481.1 457.1L481.9 457.1L482.6 457.1L483.4 457.1L484.2 457.1L485.0 457.1L485.8 457.1L486.6 457.1L487.3 457.1L488.1 457.1L488.9 457.1L489.7 457.1L490.5 457.1L491.2 457.1L492.0 457.1L492.8 457.1L493.6 457.1L494.4 457.1L495.2 457.1L495.9 457.1L496.7 457.1L497.5 457.1L498.3 457.1L499.1 457.1L499.9 457.1L500.6 457.1L501.4 457.1L502.2 457.1L503.0 457.1" fill="none" stroke="#111" stroke-width="1.35" stroke-linejoin="miter" stroke-miterlimit="6"/>
<path d="M315.0 457.1L315.8 457.1L316.6 457.1L317.4 457.1L318.1 457.1L318.9 457.1L319.7 457.1L320.5 457.1L321.3 457.1L322.1 457.1L322.8 457.1L323.6 457.1L324.4 457.1L325.2 457.1L326.0 457.1L326.8 457.1L327.5 457.1L328.3 457.1L329.1 457.1L329.9 457.1L330.7 457.1L331.4 457.1L332.2 457.1L333.0 457.1L333.8 457.1L334.6 457.1L335.4 457.1L336.1 457.1L336.9 457.1L337.7 457.1L338.5 457.1L339.3 457.0L340.1 456.7L340.9 456.2L341.6 455.6L342.4 454.6L343.2 453.3L344.0 451.9L344.8 450.2L345.6 448.3L346.3 446.2L347.1 444.0L347.9 441.1L348.7 437.4L349.5 433.0L350.2 428.2L351.0 423.2L351.8 418.0L352.6 413.0L353.4 408.3L354.2 403.5L354.9 398.3L355.7 393.1L356.5 387.9L357.3 382.9L358.1 378.2L358.9 374.1L359.6 370.6L360.4 367.3L361.2 363.9L362.0 360.6L362.8 357.6L363.6 355.0L364.4 352.9L365.1 351.4L365.9 350.8L366.7 350.8L367.5 351.1L368.3 351.7L369.1 352.4L369.8 353.3L370.6 354.3L371.4 355.4L372.2 356.7L373.0 358.0L373.8 359.3L374.5 360.7L375.3 362.2L376.1 364.0L376.9 366.2L377.7 368.7L378.4 371.3L379.2 374.0L380.0 376.8L380.8 379.4L381.6 381.8L382.4 384.2L383.1 386.5L383.9 388.7L384.7 391.0L385.5 393.3L386.3 395.6L387.1 398.0L387.9 400.4L388.6 403.0L389.4 405.8L390.2 409.2L391.0 412.5L391.8 415.3L392.6 417.1L393.3 418.5L394.1 419.7L394.9 420.8L395.7 421.8L396.5 422.9L397.2 424.1L398.0 425.5L398.8 427.0L399.6 428.7L400.4 430.3L401.2 431.8L401.9 433.2L402.7 434.4L403.5 435.7L404.3 437.0L405.1 438.1L405.9 439.1L406.6 439.8L407.4 440.3L408.2 440.7L409.0 441.1L409.8 440.8L410.6 440.5L411.4 440.1L412.1 439.8L412.9 440.7L413.7 441.9L414.5 443.4L415.3 445.1L416.1 445.6L416.8 446.0L417.6 446.1L418.4 445.8L419.2 445.9L420.0 445.9L420.8 445.9L421.5 445.8L422.3 446.3L423.1 446.9L423.9 447.5L424.7 448.2L425.4 449.4L426.2 450.9L427.0 452.4L427.8 453.7L428.6 453.8L429.4 453.7L430.1 453.2L430.9 452.5L431.7 452.1L432.5 451.8L433.3 451.5L434.1 451.5L434.9 452.3L435.6 453.5L436.4 454.7L437.2 455.6L438.0 455.8L438.8 455.9L439.6 456.0L440.3 456.0L441.1 455.8L441.9 455.6L442.7 455.4L443.5 455.1L444.2 455.4L445.0 455.6L445.8 455.8L446.6 456.1L447.4 455.6L448.2 455.2L448.9 454.8L449.7 454.4L450.5 454.6L451.3 454.8L452.1 455.0L452.9 455.2L453.6 455.2L454.4 455.2L455.2 455.2L456.0 455.2L456.8 455.2L457.6 455.3L458.4 455.3L459.1 455.4L459.9 455.3L460.7 455.2L461.5 455.1L462.3 454.9L463.1 454.8L463.8 454.7L464.6 454.6L465.4 454.5L466.2 454.8L467.0 455.1L467.8 455.3L468.5 455.6L469.3 455.6L470.1 455.6L470.9 455.5L471.7 455.5L472.4 455.4L473.2 455.3L474.0 455.2L474.8 455.1L475.6 455.3L476.4 455.4L477.1 455.5L477.9 455.7L478.7 455.5L479.5 455.4L480.3 455.3L481.1 455.2L481.9 455.2L482.6 455.2L483.4 455.2L484.2 455.3L485.0 455.3L485.8 455.4L486.6 455.4L487.3 455.5L488.1 455.4L488.9 455.3L489.7 455.2L490.5 455.1L491.2 455.1L492.0 455.2L492.8 455.3L493.6 455.3L494.4 455.5L495.2 455.7L495.9 455.9L496.7 456.2L497.5 455.7L498.3 455.3L499.1 454.9L499.9 454.5L500.6 454.8L501.4 455.1L502.2 455.4L503.0 455.7" fill="none" stroke="#111" stroke-width="1.45" stroke-dasharray="2.4 1.9" stroke-linejoin="round"/>
<path d="M315.0 457.1L315.8 457.1L316.6 457.1L317.4 457.1L318.1 457.1L318.9 457.1L319.7 457.1L320.5 457.1L321.3 457.1L322.1 457.1L322.8 457.1L323.6 457.1L324.4 457.1L325.2 457.1L326.0 457.1L326.8 457.1L327.5 457.1L328.3 457.1L329.1 457.1L329.9 457.1L330.7 457.1L331.4 457.1L332.2 457.1L333.0 457.1L333.8 457.1L334.6 457.1L335.4 457.1L336.1 457.1L336.9 457.1L337.7 457.1L338.5 457.1L339.3 457.1L340.1 457.1L340.9 457.1L341.6 457.1L342.4 456.8L343.2 456.3L344.0 455.7L344.8 454.6L345.6 453.2L346.3 451.6L347.1 449.9L347.9 448.0L348.7 446.2L349.5 444.5L350.2 442.8L351.0 440.9L351.8 439.0L352.6 437.1L353.4 435.1L354.2 433.1L354.9 431.2L355.7 429.3L356.5 427.3L357.3 425.1L358.1 423.0L358.9 421.0L359.6 419.3L360.4 418.2L361.2 417.7L362.0 417.4L362.8 417.2L363.6 416.9L364.4 416.8L365.1 416.6L365.9 416.3L366.7 415.9L367.5 415.5L368.3 415.0L369.1 414.4L369.8 413.9L370.6 413.4L371.4 412.9L372.2 412.6L373.0 412.3L373.8 412.3L374.5 412.4L375.3 412.5L376.1 412.8L376.9 413.1L377.7 413.5L378.4 413.9L379.2 414.3L380.0 414.7L380.8 415.2L381.6 415.5L382.4 416.0L383.1 416.4L383.9 416.8L384.7 417.3L385.5 417.8L386.3 418.3L387.1 418.8L387.9 419.3L388.6 419.7L389.4 420.2L390.2 420.6L391.0 421.0L391.8 421.5L392.6 422.0L393.3 422.6L394.1 423.0L394.9 423.4L395.7 423.8L396.5 424.1L397.2 424.5L398.0 424.9L398.8 425.4L399.6 425.8L400.4 426.0L401.2 426.2L401.9 426.4L402.7 426.5L403.5 427.1L404.3 427.7L405.1 428.4L405.9 429.0L406.6 428.8L407.4 428.5L408.2 428.1L409.0 427.7L409.8 428.1L410.6 428.4L411.4 428.8L412.1 429.1L412.9 430.4L413.7 431.7L414.5 433.0L415.3 434.2L416.1 433.6L416.8 433.0L417.6 432.4L418.4 431.8L419.2 433.3L420.0 434.7L420.8 436.2L421.5 437.7L422.3 437.8L423.1 438.0L423.9 438.2L424.7 438.4L425.4 437.7L426.2 437.1L427.0 436.5L427.8 435.9L428.6 436.0L429.4 436.1L430.1 436.3L430.9 436.5L431.7 436.8L432.5 437.2L433.3 437.5L434.1 437.8L434.9 437.9L435.6 437.9L436.4 437.8L437.2 437.7L438.0 437.9L438.8 437.9L439.6 437.8L440.3 437.7L441.1 438.4L441.9 439.3L442.7 440.2L443.5 435.1L444.2 428.8L445.0 420.8L445.8 427.4L446.6 443.7L447.4 456.0L448.2 452.4L448.9 448.7L449.7 444.9L450.5 440.6L451.3 442.0L452.1 443.5L452.9 444.9L453.6 444.4L454.4 443.9L455.2 443.5L456.0 443.0L456.8 443.6L457.6 444.3L458.4 444.9L459.1 445.5L459.9 445.7L460.7 445.8L461.5 446.0L462.3 446.1L463.1 445.7L463.8 445.4L464.6 445.0L465.4 444.6L466.2 444.5L467.0 444.4L467.8 444.2L468.5 444.1L469.3 443.9L470.1 443.6L470.9 443.3L471.7 443.1L472.4 444.5L473.2 446.0L474.0 447.4L474.8 448.9L475.6 448.5L476.4 448.0L477.1 447.6L477.9 447.1L478.7 446.5L479.5 445.8L480.3 445.1L481.1 444.4L481.9 444.9L482.6 445.3L483.4 445.7L484.2 446.1L485.0 446.5L485.8 446.9L486.6 447.3L487.3 447.7L488.1 448.2L488.9 448.7L489.7 449.1L490.5 449.5L491.2 449.0L492.0 448.3L492.8 447.7L493.6 447.1L494.4 447.6L495.2 448.1L495.9 448.6L496.7 449.2L497.5 448.5L498.3 447.9L499.1 447.2L499.9 446.6L500.6 446.5L501.4 446.4L502.2 446.4L503.0 446.3" fill="none" stroke="#111" stroke-width="1.45" stroke-dasharray="5 2.3" stroke-linejoin="round"/>
<path d="M367.3 295.2H382" stroke="#111" stroke-width="1.35"/>
<text x="383.3" y="299.9" font-size="12.6" textLength="46.7" lengthAdjust="spacingAndGlyphs">No TFPI</text>
<path d="M369 350.3H389.9" stroke="#111" stroke-width="1.45" stroke-dasharray="2.4 1.9"/>
<text x="391.5" y="354.9" font-size="12.9" textLength="72.6" lengthAdjust="spacingAndGlyphs">TFPI R199Q</text>
<text x="391.7" y="369.3" font-size="12.7" textLength="123" lengthAdjust="spacingAndGlyphs">+ protein S antibodies</text>
<path d="M406.3 416.8H420.2" stroke="#111" stroke-width="1.45" stroke-dasharray="5.2 1.5"/>
<text x="423.5" y="420.9" font-size="12.9" textLength="72.6" lengthAdjust="spacingAndGlyphs">TFPI R199Q</text>
</g>
<g id="panel-E">
<path d="M46.00 514.80V705.20H234.00M43.40 705.20H46.00M43.40 667.22H46.00M43.40 629.24H46.00M43.40 591.26H46.00M43.40 553.28H46.00M43.40 515.30H46.00M46.00 705.20v2.6M108.50 705.20v2.6M171.00 705.20v2.6M233.50 705.20v2.6" fill="none" stroke="#333" stroke-width="1.1"/>
<text x="42.50" y="709.20" font-size="11.7" text-anchor="end">0</text>
<text x="42.50" y="671.22" font-size="11.7" text-anchor="end">50</text>
<text x="42.50" y="633.24" font-size="11.7" text-anchor="end">100</text>
<text x="42.50" y="595.26" font-size="11.7" text-anchor="end">150</text>
<text x="42.50" y="557.28" font-size="11.7" text-anchor="end">200</text>
<text x="42.50" y="519.30" font-size="11.7" text-anchor="end">250</text>
<text x="46.00" y="719.00" font-size="11.7" text-anchor="middle">0</text>
<text x="108.50" y="719.00" font-size="11.7" text-anchor="middle">10</text>
<text x="171.00" y="719.00" font-size="11.7" text-anchor="middle">20</text>
<text x="233.50" y="719.00" font-size="11.7" text-anchor="middle">30</text>
<text x="138.90" y="736.30" font-size="14.4" text-anchor="middle" textLength="95.8" lengthAdjust="spacingAndGlyphs">Time (minutes)</text>
<text transform="translate(15.50 608.45) rotate(-90)" font-size="14.2" text-anchor="middle" textLength="82.6" lengthAdjust="spacingAndGlyphs">nM Thrombin</text>
<text x="4.2" y="506.6" font-size="17" font-weight="bold" fill="#000">E</text>
<path d="M46.0 705.2L46.8 705.2L47.6 705.2L48.3 705.2L49.1 705.2L49.9 705.2L50.7 705.2L51.5 705.1L52.2 705.1L53.0 705.1L53.8 705.1L54.6 705.1L55.4 705.1L56.2 705.1L56.9 705.1L57.7 705.1L58.5 705.1L59.3 705.1L60.1 705.1L60.8 705.0L61.6 705.0L62.4 705.0L63.2 705.0L64.0 705.0L64.8 704.9L65.5 704.8L66.3 704.7L67.1 704.4L67.9 703.9L68.7 703.1L69.4 701.2L70.2 698.6L71.0 695.1L71.8 690.6L72.6 684.2L73.3 676.3L74.1 667.5L74.9 657.3L75.7 646.3L76.5 635.6L77.2 624.6L78.0 613.6L78.8 603.4L79.6 594.4L80.4 585.9L81.2 577.9L81.9 570.7L82.7 564.2L83.5 558.1L84.3 552.9L85.1 549.4L85.8 546.6L86.6 544.4L87.4 543.4L88.2 544.3L89.0 546.8L89.8 549.9L90.5 553.7L91.3 558.8L92.1 564.4L92.9 570.0L93.7 575.5L94.4 581.2L95.2 587.0L96.0 592.8L96.8 598.6L97.6 604.4L98.3 610.1L99.1 615.6L99.9 620.8L100.7 626.0L101.5 630.9L102.2 635.3L103.0 639.3L103.8 643.0L104.6 646.5L105.4 649.7L106.2 652.8L106.9 655.7L107.7 658.5L108.5 661.1L109.3 663.7L110.1 666.1L110.8 668.3L111.6 670.3L112.4 672.1L113.2 673.8L114.0 675.5L114.8 677.1L115.5 678.7L116.3 680.3L117.1 681.7L117.9 682.9L118.7 683.9L119.4 684.8L120.2 685.6L121.0 686.4L121.8 687.4L122.6 688.3L123.3 689.3L124.1 690.2L124.9 691.0L125.7 691.6L126.5 692.2L127.2 692.7L128.0 693.5L128.8 694.1L129.6 694.7L130.4 695.3L131.2 695.8L131.9 696.2L132.7 696.6L133.5 697.1L134.3 697.2L135.1 697.2L135.8 697.2L136.6 697.2L137.4 697.8L138.2 698.3L139.0 698.9L139.8 699.4L140.5 699.6L141.3 699.9L142.1 700.1L142.9 700.3L143.7 700.3L144.4 700.2L145.2 700.2L146.0 700.2L146.8 700.5L147.6 700.7L148.3 700.9L149.1 701.1L149.9 701.5L150.7 701.7L151.5 702.0L152.2 702.3L153.0 702.3L153.8 702.4L154.6 702.5L155.4 702.6L156.2 702.7L156.9 702.8L157.7 703.0L158.5 703.1L159.3 703.2L160.1 703.4L160.8 703.5L161.6 703.7L162.4 703.9L163.2 704.1L164.0 704.3L164.8 704.5L165.5 704.5L166.3 704.4L167.1 703.6L167.9 702.7L168.7 702.5L169.4 703.2L170.2 704.3L171.0 704.9L171.8 704.9L172.6 704.9L173.3 704.9L174.1 704.9L174.9 704.9L175.7 704.9L176.5 704.9L177.2 704.9L178.0 705.2L178.8 705.2L179.6 705.2L180.4 705.2L181.2 705.2L181.9 705.2L182.7 705.2L183.5 705.2L184.3 705.2L185.1 705.2L185.8 705.2L186.6 705.2L187.4 705.2L188.2 705.2L189.0 705.2L189.8 705.2L190.5 705.2L191.3 705.2L192.1 705.2L192.9 705.2L193.7 705.2L194.4 705.2L195.2 705.2L196.0 705.2L196.8 705.2L197.6 705.2L198.3 705.2L199.1 705.2L199.9 705.2L200.7 705.2L201.5 705.2L202.2 705.2L203.0 705.2L203.8 705.2L204.6 705.2L205.4 705.2L206.2 705.2L206.9 705.2L207.7 705.2L208.5 705.2L209.3 705.2L210.1 705.2L210.8 705.2L211.6 705.2L212.4 705.2L213.2 705.2L214.0 705.2L214.8 705.2L215.5 705.2L216.3 705.2L217.1 705.2L217.9 705.2L218.7 705.2L219.4 705.2L220.2 705.2L221.0 705.2L221.8 705.2L222.6 705.2L223.3 705.2L224.1 705.2L224.9 705.2L225.7 705.2L226.5 705.2L227.2 705.2L228.0 705.2L228.8 705.2L229.6 705.2L230.4 705.2L231.2 705.2L231.9 705.2L232.7 705.2L233.5 705.2" fill="none" stroke="#111" stroke-width="1.35" stroke-linejoin="miter" stroke-miterlimit="6"/>
<path d="M46.0 705.2L46.8 705.2L47.6 705.2L48.3 705.2L49.1 705.2L49.9 705.2L50.7 705.2L51.5 705.2L52.2 705.2L53.0 705.2L53.8 705.2L54.6 705.2L55.4 705.2L56.2 705.2L56.9 705.2L57.7 705.2L58.5 705.2L59.3 705.2L60.1 705.2L60.8 705.2L61.6 705.2L62.4 705.2L63.2 705.2L64.0 705.2L64.8 705.2L65.5 705.2L66.3 705.2L67.1 705.2L67.9 705.2L68.7 705.2L69.4 705.2L70.2 705.2L71.0 705.0L71.8 704.6L72.6 703.8L73.3 702.6L74.1 700.9L74.9 698.9L75.7 696.6L76.5 694.1L77.2 691.4L78.0 688.6L78.8 685.8L79.6 682.5L80.4 678.7L81.2 674.6L81.9 670.1L82.7 665.5L83.5 660.8L84.3 656.2L85.1 651.7L85.8 647.5L86.6 643.4L87.4 639.1L88.2 634.8L89.0 630.5L89.8 626.4L90.5 622.6L91.3 619.4L92.1 616.8L92.9 614.6L93.7 612.6L94.4 610.6L95.2 608.7L96.0 607.0L96.8 605.5L97.6 604.2L98.3 603.3L99.1 602.8L99.9 602.7L100.7 602.9L101.5 603.3L102.2 604.0L103.0 604.9L103.8 606.0L104.6 607.2L105.4 608.5L106.2 609.8L106.9 611.2L107.7 612.7L108.5 614.0L109.3 615.5L110.1 617.3L110.8 619.2L111.6 621.3L112.4 623.5L113.2 625.8L114.0 628.2L114.8 630.6L115.5 633.0L116.3 635.4L117.1 637.7L117.9 639.9L118.7 642.0L119.4 644.0L120.2 646.0L121.0 648.1L121.8 650.1L122.6 652.1L123.3 654.1L124.1 656.1L124.9 658.0L125.7 659.9L126.5 661.7L127.2 663.4L128.0 665.1L128.8 666.8L129.6 668.3L130.4 669.9L131.2 671.5L131.9 673.0L132.7 674.4L133.5 675.8L134.3 677.1L135.1 678.3L135.8 679.3L136.6 680.3L137.4 681.4L138.2 682.4L139.0 683.5L139.8 684.5L140.5 685.3L141.3 685.9L142.1 686.5L142.9 687.1L143.7 687.8L144.4 688.4L145.2 689.1L146.0 689.6L146.8 690.4L147.6 691.1L148.3 691.7L149.1 692.4L149.9 692.9L150.7 693.3L151.5 693.7L152.2 694.1L153.0 694.8L153.8 695.5L154.6 696.2L155.4 696.9L156.2 697.0L156.9 697.1L157.7 697.2L158.5 697.2L159.3 697.3L160.1 697.4L160.8 697.4L161.6 697.4L162.4 698.4L163.2 699.4L164.0 700.3L164.8 701.2L165.5 700.4L166.3 699.7L167.1 699.0L167.9 698.4L168.7 699.1L169.4 699.8L170.2 700.5L171.0 701.1L171.8 701.4L172.6 701.7L173.3 701.9L174.1 702.2L174.9 702.3L175.7 702.3L176.5 702.4L177.2 702.5L178.0 702.4L178.8 702.3L179.6 702.3L180.4 702.2L181.2 702.4L181.9 702.6L182.7 702.9L183.5 703.1L184.3 702.9L185.1 702.8L185.8 702.6L186.6 702.5L187.4 702.5L188.2 702.6L189.0 702.6L189.8 702.7L190.5 702.6L191.3 702.5L192.1 702.4L192.9 702.4L193.7 702.5L194.4 702.6L195.2 702.8L196.0 702.9L196.8 702.7L197.6 702.5L198.3 702.4L199.1 702.2L199.9 702.4L200.7 702.5L201.5 702.7L202.2 702.8L203.0 703.0L203.8 703.2L204.6 703.4L205.4 703.5L206.2 703.3L206.9 703.1L207.7 702.9L208.5 702.6L209.3 702.7L210.1 702.8L210.8 702.9L211.6 703.0L212.4 702.9L213.2 702.8L214.0 702.7L214.8 702.6L215.5 702.7L216.3 702.8L217.1 702.9L217.9 703.0L218.7 703.0L219.4 702.9L220.2 702.8L221.0 702.7L221.8 703.0L222.6 703.4L223.3 703.7L224.1 704.1L224.9 704.1L225.7 704.0L226.5 704.0L227.2 704.0L228.0 703.7L228.8 703.4L229.6 703.1L230.4 702.8L231.2 703.2L231.9 703.7L232.7 704.1L233.5 704.6" fill="none" stroke="#111" stroke-width="1.45" stroke-dasharray="2.4 1.9" stroke-linejoin="round"/>
<path d="M46.0 705.2L46.8 705.2L47.6 705.2L48.3 705.2L49.1 705.2L49.9 705.2L50.7 705.2L51.5 705.2L52.2 705.2L53.0 705.2L53.8 705.2L54.6 705.2L55.4 705.2L56.2 705.2L56.9 705.2L57.7 705.2L58.5 705.2L59.3 705.2L60.1 705.2L60.8 705.2L61.6 705.2L62.4 705.2L63.2 705.2L64.0 705.2L64.8 705.2L65.5 705.2L66.3 705.2L67.1 705.2L67.9 705.2L68.7 705.2L69.4 705.2L70.2 705.2L71.0 705.2L71.8 705.0L72.6 704.6L73.3 704.1L74.1 703.0L74.9 701.5L75.7 699.6L76.5 697.4L77.2 695.0L78.0 692.5L78.8 690.0L79.6 687.5L80.4 684.9L81.2 682.0L81.9 678.9L82.7 675.6L83.5 672.3L84.3 668.9L85.1 665.6L85.8 662.5L86.6 659.4L87.4 656.1L88.2 652.8L89.0 649.5L89.8 646.3L90.5 643.5L91.3 641.2L92.1 639.4L92.9 638.1L93.7 636.9L94.4 635.7L95.2 634.6L96.0 633.6L96.8 632.7L97.6 631.9L98.3 631.2L99.1 630.7L99.9 630.3L100.7 630.2L101.5 630.2L102.2 630.3L103.0 630.6L103.8 631.1L104.6 631.6L105.4 632.2L106.2 632.9L106.9 633.6L107.7 634.4L108.5 635.2L109.3 636.0L110.1 636.8L110.8 637.6L111.6 638.4L112.4 639.3L113.2 640.2L114.0 641.3L114.8 642.4L115.5 643.5L116.3 644.7L117.1 645.8L117.9 647.0L118.7 648.2L119.4 649.4L120.2 650.5L121.0 651.6L121.8 652.8L122.6 653.9L123.3 655.0L124.1 656.2L124.9 657.1L125.7 658.1L126.5 659.0L127.2 659.9L128.0 661.0L128.8 662.1L129.6 663.3L130.4 664.5L131.2 665.5L131.9 666.5L132.7 667.6L133.5 668.6L134.3 670.1L135.1 671.5L135.8 672.9L136.6 674.2L137.4 675.8L138.2 677.3L139.0 678.8L139.8 680.3L140.5 681.3L141.3 682.2L142.1 683.1L142.9 684.0L143.7 683.6L144.4 683.2L145.2 682.8L146.0 682.4L146.8 682.7L147.6 683.0L148.3 683.2L149.1 683.5L149.9 685.4L150.7 687.3L151.5 689.2L152.2 691.0L153.0 690.4L153.8 689.7L154.6 689.0L155.4 688.3L156.2 688.4L156.9 688.6L157.7 688.8L158.5 688.9L159.3 689.6L160.1 690.3L160.8 690.9L161.6 691.6L162.4 692.7L163.2 693.7L164.0 694.7L164.8 695.7L165.5 695.2L166.3 694.6L167.1 694.1L167.9 693.6L168.7 694.0L169.4 694.4L170.2 694.8L171.0 695.1L171.8 696.2L172.6 697.2L173.3 698.2L174.1 699.2L174.9 698.8L175.7 698.3L176.5 697.8L177.2 697.3L178.0 698.1L178.8 698.9L179.6 699.7L180.4 700.5L181.2 700.9L181.9 701.3L182.7 701.7L183.5 702.0L184.3 701.7L185.1 701.4L185.8 701.0L186.6 700.7L187.4 700.8L188.2 700.9L189.0 701.0L189.8 701.1L190.5 701.1L191.3 701.1L192.1 701.1L192.9 701.1L193.7 700.9L194.4 700.7L195.2 700.5L196.0 700.3L196.8 700.2L197.6 700.1L198.3 700.0L199.1 699.9L199.9 699.8L200.7 699.8L201.5 699.7L202.2 699.7L203.0 699.8L203.8 699.8L204.6 699.9L205.4 699.9L206.2 700.0L206.9 700.1L207.7 700.1L208.5 700.2L209.3 700.4L210.1 700.6L210.8 700.9L211.6 701.1L212.4 701.5L213.2 701.9L214.0 702.3L214.8 702.8L215.5 702.9L216.3 703.0L217.1 703.1L217.9 703.2L218.7 702.9L219.4 702.7L220.2 702.4L221.0 702.1L221.8 702.2L222.6 702.3L223.3 702.4L224.1 702.4L224.9 702.4L225.7 702.3L226.5 702.3L227.2 702.2L228.0 702.6L228.8 703.0L229.6 703.4L230.4 703.8L231.2 703.8L231.9 703.7L232.7 703.7L233.5 703.7" fill="none" stroke="#111" stroke-width="1.45" stroke-dasharray="5 2.3" stroke-linejoin="round"/>
<path d="M97.6 545H112.3" stroke="#111" stroke-width="1.35"/>
<text x="113.9" y="549.2" font-size="12.6" textLength="46.7" lengthAdjust="spacingAndGlyphs">No TFPI</text>
<path d="M106.3 601.1H121" stroke="#111" stroke-width="1.45" stroke-dasharray="2.4 1.9"/>
<text x="122" y="605.7" font-size="12.9" textLength="72.6" lengthAdjust="spacingAndGlyphs">TFPI E226Q</text>
<text x="122.8" y="621.4" font-size="12.7" textLength="123" lengthAdjust="spacingAndGlyphs">+ protein S antibodies</text>
<path d="M124.3 632.8H135.8" stroke="#111" stroke-width="1.45" stroke-dasharray="5.2 1.5"/>
<text x="139.7" y="637.5" font-size="12.9" textLength="72.6" lengthAdjust="spacingAndGlyphs">TFPI E226Q</text>
</g>
<g id="panel-F">
<path d="M315.00 514.80V704.90H503.40M312.40 704.90H315.00M312.40 666.98H315.00M312.40 629.06H315.00M312.40 591.14H315.00M312.40 553.22H315.00M312.40 515.30H315.00M315.00 704.90v2.6M377.63 704.90v2.6M440.27 704.90v2.6M502.90 704.90v2.6" fill="none" stroke="#333" stroke-width="1.1"/>
<text x="311.50" y="708.90" font-size="11.7" text-anchor="end">0</text>
<text x="311.50" y="670.98" font-size="11.7" text-anchor="end">50</text>
<text x="311.50" y="633.06" font-size="11.7" text-anchor="end">100</text>
<text x="311.50" y="595.14" font-size="11.7" text-anchor="end">150</text>
<text x="311.50" y="557.22" font-size="11.7" text-anchor="end">200</text>
<text x="311.50" y="519.30" font-size="11.7" text-anchor="end">250</text>
<text x="315.00" y="718.70" font-size="11.7" text-anchor="middle">0</text>
<text x="377.63" y="718.70" font-size="11.7" text-anchor="middle">10</text>
<text x="440.27" y="718.70" font-size="11.7" text-anchor="middle">20</text>
<text x="502.90" y="718.70" font-size="11.7" text-anchor="middle">30</text>
<text x="408.10" y="736.00" font-size="14.4" text-anchor="middle" textLength="95.8" lengthAdjust="spacingAndGlyphs">Time (minutes)</text>
<text transform="translate(284.50 608.30) rotate(-90)" font-size="14.2" text-anchor="middle" textLength="82.6" lengthAdjust="spacingAndGlyphs">nM Thrombin</text>
<text x="274" y="506" font-size="17" font-weight="bold" fill="#000">F</text>
<path d="M315.0 704.9L315.8 704.9L316.6 704.9L317.3 704.9L318.1 704.9L318.9 704.9L319.7 704.9L320.5 704.8L321.3 704.8L322.0 704.8L322.8 704.8L323.6 704.8L324.4 704.8L325.2 704.8L326.0 704.8L326.7 704.8L327.5 704.8L328.3 704.8L329.1 704.8L329.9 704.7L330.7 704.7L331.4 704.7L332.2 704.7L333.0 704.7L333.8 704.6L334.6 704.5L335.4 704.4L336.1 704.1L336.9 703.6L337.7 702.8L338.5 700.9L339.3 698.3L340.1 694.8L340.8 690.3L341.6 684.0L342.4 676.0L343.2 667.2L344.0 657.0L344.8 646.1L345.5 635.4L346.3 624.4L347.1 613.4L347.9 603.2L348.7 594.2L349.4 585.7L350.2 577.8L351.0 570.6L351.8 564.1L352.6 558.0L353.4 552.8L354.1 549.4L354.9 546.5L355.7 544.4L356.5 543.4L357.3 544.2L358.1 546.7L358.8 549.8L359.6 553.7L360.4 558.7L361.2 564.3L362.0 569.9L362.8 575.4L363.5 581.1L364.3 586.9L365.1 592.7L365.9 598.4L366.7 604.2L367.5 609.9L368.2 615.4L369.0 620.7L369.8 625.8L370.6 630.7L371.4 635.1L372.2 639.1L372.9 642.8L373.7 646.3L374.5 649.5L375.3 652.6L376.1 655.5L376.9 658.3L377.6 660.9L378.4 663.5L379.2 665.9L380.0 668.1L380.8 670.1L381.5 671.9L382.3 673.6L383.1 675.2L383.9 676.8L384.7 678.4L385.5 680.0L386.2 681.4L387.0 682.6L387.8 683.7L388.6 684.6L389.4 685.4L390.2 686.2L390.9 687.3L391.7 688.4L392.5 689.6L393.3 690.7L394.1 691.2L394.9 691.6L395.6 691.9L396.4 692.1L397.2 692.6L398.0 693.1L398.8 693.5L399.6 693.9L400.3 694.4L401.1 695.1L401.9 695.7L402.7 696.4L403.5 696.7L404.3 696.9L405.0 697.1L405.8 697.3L406.6 697.8L407.4 698.3L408.2 698.7L408.9 699.2L409.7 699.4L410.5 699.7L411.3 699.9L412.1 700.1L412.9 700.3L413.6 700.5L414.4 700.6L415.2 700.8L416.0 701.0L416.8 701.1L417.6 701.2L418.3 701.3L419.1 701.3L419.9 701.3L420.7 701.3L421.5 701.3L422.3 701.5L423.0 701.7L423.8 702.0L424.6 702.2L425.4 702.2L426.2 702.2L427.0 702.3L427.7 702.3L428.5 702.5L429.3 702.6L430.1 702.8L430.9 702.9L431.7 703.2L432.4 703.5L433.2 703.8L434.0 704.1L434.8 704.1L435.6 704.0L436.4 703.3L437.1 702.5L437.9 702.3L438.7 703.0L439.5 704.1L440.3 704.6L441.0 704.6L441.8 704.6L442.6 704.6L443.4 704.6L444.2 704.6L445.0 704.6L445.7 704.6L446.5 704.6L447.3 704.9L448.1 704.9L448.9 704.9L449.7 704.9L450.4 704.9L451.2 704.9L452.0 704.9L452.8 704.9L453.6 704.9L454.4 704.9L455.1 704.9L455.9 704.9L456.7 704.9L457.5 704.9L458.3 704.9L459.1 704.9L459.8 704.9L460.6 704.9L461.4 704.9L462.2 704.9L463.0 704.9L463.8 704.9L464.5 704.9L465.3 704.9L466.1 704.9L466.9 704.9L467.7 704.9L468.5 704.9L469.2 704.9L470.0 704.9L470.8 704.9L471.6 704.9L472.4 704.9L473.1 704.9L473.9 704.9L474.7 704.9L475.5 704.9L476.3 704.9L477.1 704.9L477.8 704.9L478.6 704.9L479.4 704.9L480.2 704.9L481.0 704.9L481.8 704.9L482.5 704.9L483.3 704.9L484.1 704.9L484.9 704.9L485.7 704.9L486.5 704.9L487.2 704.9L488.0 704.9L488.8 704.9L489.6 704.9L490.4 704.9L491.2 704.9L491.9 704.9L492.7 704.9L493.5 704.9L494.3 704.9L495.1 704.9L495.9 704.9L496.6 704.9L497.4 704.9L498.2 704.9L499.0 704.9L499.8 704.9L500.6 704.9L501.3 704.9L502.1 704.9L502.9 704.9" fill="none" stroke="#111" stroke-width="1.35" stroke-linejoin="miter" stroke-miterlimit="6"/>
<path d="M315.0 704.9L315.8 704.9L316.6 704.9L317.3 704.9L318.1 704.9L318.9 704.9L319.7 704.9L320.5 704.9L321.3 704.9L322.0 704.9L322.8 704.9L323.6 704.9L324.4 704.9L325.2 704.9L326.0 704.9L326.7 704.9L327.5 704.9L328.3 704.9L329.1 704.9L329.9 704.9L330.7 704.9L331.4 704.9L332.2 704.9L333.0 704.9L333.8 704.9L334.6 704.9L335.4 704.9L336.1 704.9L336.9 704.9L337.7 704.9L338.5 704.9L339.3 704.9L340.1 704.9L340.8 704.7L341.6 704.3L342.4 703.7L343.2 702.6L344.0 701.0L344.8 698.9L345.5 696.6L346.3 694.1L347.1 691.5L347.9 688.2L348.7 684.3L349.4 679.8L350.2 675.0L351.0 670.0L351.8 665.0L352.6 660.2L353.4 655.8L354.1 651.4L354.9 646.7L355.7 642.1L356.5 637.5L357.3 633.3L358.1 629.4L358.8 626.0L359.6 623.3L360.4 620.7L361.2 618.3L362.0 615.9L362.8 613.6L363.5 611.5L364.3 609.7L365.1 608.2L365.9 607.1L366.7 606.5L367.5 606.3L368.2 606.4L369.0 606.7L369.8 607.1L370.6 607.6L371.4 608.2L372.2 608.9L372.9 609.7L373.7 610.6L374.5 611.5L375.3 612.5L376.1 613.5L376.9 614.6L377.6 616.0L378.4 617.8L379.2 619.8L380.0 622.1L380.8 624.4L381.5 626.9L382.3 629.3L383.1 631.7L383.9 633.9L384.7 636.1L385.5 638.4L386.2 640.7L387.0 643.0L387.8 645.3L388.6 647.5L389.4 649.7L390.2 651.8L390.9 653.9L391.7 655.9L392.5 657.9L393.3 659.9L394.1 661.8L394.9 663.6L395.6 665.4L396.4 667.0L397.2 668.5L398.0 670.0L398.8 671.5L399.6 672.9L400.3 674.2L401.1 675.5L401.9 676.8L402.7 678.0L403.5 679.0L404.3 679.9L405.0 680.7L405.8 681.4L406.6 682.4L407.4 683.3L408.2 684.2L408.9 685.0L409.7 685.4L410.5 685.7L411.3 685.9L412.1 686.0L412.9 687.2L413.6 688.5L414.4 689.8L415.2 691.1L416.0 690.9L416.8 690.7L417.6 690.3L418.3 689.9L419.1 690.9L419.9 691.8L420.7 692.8L421.5 693.7L422.3 694.1L423.0 694.5L423.8 694.9L424.6 695.3L425.4 695.8L426.2 696.3L427.0 696.7L427.7 697.1L428.5 697.0L429.3 696.9L430.1 696.7L430.9 696.6L431.7 696.3L432.4 695.9L433.2 695.6L434.0 695.2L434.8 695.3L435.6 695.3L436.4 695.4L437.1 695.4L437.9 695.6L438.7 695.9L439.5 696.1L440.3 696.3L441.0 696.9L441.8 697.4L442.6 698.0L443.4 698.6L444.2 699.3L445.0 699.9L445.7 700.5L446.5 701.0L447.3 700.9L448.1 700.9L448.9 700.8L449.7 700.8L450.4 700.8L451.2 700.8L452.0 700.8L452.8 700.7L453.6 700.9L454.4 701.0L455.1 701.1L455.9 701.2L456.7 700.3L457.5 699.3L458.3 698.2L459.1 697.0L459.8 697.5L460.6 698.2L461.4 698.8L462.2 699.5L463.0 699.1L463.8 698.7L464.5 698.3L465.3 698.0L466.1 698.0L466.9 698.1L467.7 698.2L468.5 698.4L469.2 698.6L470.0 698.8L470.8 699.0L471.6 699.3L472.4 699.7L473.1 700.0L473.9 700.4L474.7 700.7L475.5 700.7L476.3 700.7L477.1 700.6L477.8 700.5L478.6 700.5L479.4 700.5L480.2 700.4L481.0 700.4L481.8 700.0L482.5 699.5L483.3 699.1L484.1 698.7L484.9 699.2L485.7 699.6L486.5 700.0L487.2 700.4L488.0 700.4L488.8 700.4L489.6 700.4L490.4 700.5L491.2 700.7L491.9 701.0L492.7 701.3L493.5 701.5L494.3 701.7L495.1 701.9L495.9 702.1L496.6 702.2L497.4 702.0L498.2 701.8L499.0 701.6L499.8 701.4L500.6 701.4L501.3 701.4L502.1 701.4L502.9 701.3" fill="none" stroke="#111" stroke-width="1.45" stroke-dasharray="2.4 1.9" stroke-linejoin="round"/>
<path d="M315.0 704.9L315.8 704.9L316.6 704.9L317.3 704.9L318.1 704.9L318.9 704.9L319.7 704.9L320.5 704.9L321.3 704.9L322.0 704.9L322.8 704.9L323.6 704.9L324.4 704.9L325.2 704.9L326.0 704.9L326.7 704.9L327.5 704.9L328.3 704.9L329.1 704.9L329.9 704.9L330.7 704.9L331.4 704.9L332.2 704.9L333.0 704.9L333.8 704.9L334.6 704.9L335.4 704.9L336.1 704.9L336.9 704.9L337.7 704.9L338.5 704.9L339.3 704.9L340.1 704.9L340.8 704.9L341.6 704.9L342.4 704.9L343.2 704.8L344.0 704.4L344.8 703.9L345.5 702.7L346.3 700.9L347.1 698.7L347.9 696.1L348.7 693.4L349.4 690.8L350.2 688.3L351.0 686.2L351.8 683.9L352.6 681.6L353.4 679.3L354.1 677.0L354.9 674.9L355.7 673.1L356.5 671.5L357.3 670.3L358.1 669.2L358.8 668.2L359.6 667.2L360.4 666.4L361.2 665.6L362.0 665.0L362.8 664.5L363.5 664.2L364.3 664.1L365.1 663.9L365.9 663.7L366.7 663.6L367.5 663.5L368.2 663.4L369.0 663.3L369.8 663.2L370.6 663.2L371.4 663.2L372.2 663.3L372.9 663.4L373.7 663.6L374.5 663.9L375.3 664.2L376.1 664.5L376.9 664.8L377.6 665.2L378.4 665.6L379.2 666.0L380.0 666.4L380.8 666.7L381.5 667.0L382.3 667.4L383.1 667.7L383.9 668.0L384.7 668.4L385.5 668.7L386.2 669.1L387.0 669.4L387.8 669.8L388.6 670.1L389.4 670.4L390.2 670.8L390.9 671.0L391.7 671.3L392.5 671.5L393.3 671.9L394.1 672.3L394.9 672.8L395.6 673.4L396.4 674.1L397.2 674.3L398.0 674.4L398.8 674.4L399.6 674.4L400.3 674.9L401.1 675.4L401.9 676.0L402.7 676.6L403.5 676.5L404.3 676.4L405.0 676.2L405.8 675.9L406.6 676.1L407.4 676.2L408.2 676.4L408.9 676.5L409.7 678.2L410.5 679.8L411.3 681.5L412.1 683.1L412.9 682.5L413.6 681.8L414.4 681.2L415.2 680.5L416.0 681.6L416.8 682.6L417.6 683.7L418.3 684.7L419.1 685.2L419.9 685.7L420.7 686.2L421.5 686.7L422.3 686.6L423.0 686.4L423.8 686.3L424.6 686.2L425.4 686.5L426.2 686.8L427.0 687.2L427.7 687.5L428.5 688.0L429.3 688.4L430.1 688.9L430.9 689.3L431.7 689.6L432.4 689.9L433.2 690.2L434.0 690.5L434.8 690.4L435.6 690.4L436.4 690.4L437.1 690.4L437.9 690.2L438.7 690.0L439.5 689.8L440.3 689.6L441.0 690.6L441.8 691.6L442.6 692.6L443.4 693.6L444.2 693.5L445.0 693.3L445.7 693.2L446.5 693.0L447.3 693.4L448.1 693.8L448.9 694.1L449.7 694.5L450.4 693.9L451.2 693.3L452.0 692.7L452.8 692.1L453.6 693.0L454.4 693.9L455.1 694.8L455.9 695.6L456.7 695.0L457.5 694.4L458.3 693.8L459.1 693.2L459.8 694.4L460.6 695.6L461.4 696.8L462.2 698.0L463.0 696.9L463.8 695.8L464.5 694.6L465.3 693.5L466.1 694.3L466.9 695.1L467.7 695.9L468.5 696.8L469.2 696.2L470.0 695.6L470.8 695.0L471.6 694.4L472.4 694.8L473.1 695.2L473.9 695.6L474.7 695.9L475.5 696.0L476.3 696.1L477.1 696.1L477.8 696.2L478.6 697.5L479.4 698.8L480.2 700.1L481.0 701.4L481.8 700.3L482.5 699.3L483.3 698.3L484.1 697.2L484.9 697.6L485.7 698.0L486.5 698.4L487.2 698.7L488.0 698.2L488.8 697.8L489.6 697.3L490.4 696.8L491.2 697.3L491.9 697.8L492.7 698.3L493.5 698.8L494.3 699.1L495.1 699.5L495.9 699.8L496.6 700.2L497.4 699.4L498.2 698.7L499.0 697.9L499.8 697.2L500.6 697.2L501.3 697.1L502.1 697.0L502.9 697.0" fill="none" stroke="#111" stroke-width="1.45" stroke-dasharray="5 2.3" stroke-linejoin="round"/>
<path d="M366.8 543.6H382" stroke="#111" stroke-width="1.35"/>
<text x="383.3" y="548.4" font-size="12.6" textLength="46.7" lengthAdjust="spacingAndGlyphs">No TFPI</text>
<path d="M371 604.4H390.8" stroke="#111" stroke-width="1.45" stroke-dasharray="2.4 1.9"/>
<text x="392.5" y="608.7" font-size="12.9" textLength="72.6" lengthAdjust="spacingAndGlyphs">TFPI E234Q</text>
<text x="393.2" y="623.6" font-size="12.7" textLength="123" lengthAdjust="spacingAndGlyphs">+ protein S antibodies</text>
<path d="M404 665.5H416.2" stroke="#111" stroke-width="1.45" stroke-dasharray="5.2 1.5"/>
<text x="420.3" y="669.5" font-size="12.9" textLength="72.6" lengthAdjust="spacingAndGlyphs">TFPI E234Q</text>
</g>
<g id="panel-G">
<path d="M48.40 762.70V952.90H237.30M45.80 952.90H48.40M45.80 914.96H48.40M45.80 877.02H48.40M45.80 839.08H48.40M45.80 801.14H48.40M45.80 763.20H48.40M48.40 952.90v2.6M111.20 952.90v2.6M174.00 952.90v2.6M236.80 952.90v2.6" fill="none" stroke="#333" stroke-width="1.1"/>
<text x="44.90" y="956.90" font-size="11.7" text-anchor="end">0</text>
<text x="44.90" y="918.96" font-size="11.7" text-anchor="end">50</text>
<text x="44.90" y="881.02" font-size="11.7" text-anchor="end">100</text>
<text x="44.90" y="843.08" font-size="11.7" text-anchor="end">150</text>
<text x="44.90" y="805.14" font-size="11.7" text-anchor="end">200</text>
<text x="44.90" y="767.20" font-size="11.7" text-anchor="end">250</text>
<text x="48.40" y="966.70" font-size="11.7" text-anchor="middle">0</text>
<text x="111.20" y="966.70" font-size="11.7" text-anchor="middle">10</text>
<text x="174.00" y="966.70" font-size="11.7" text-anchor="middle">20</text>
<text x="236.80" y="966.70" font-size="11.7" text-anchor="middle">30</text>
<text x="141.75" y="984.00" font-size="14.4" text-anchor="middle" textLength="95.8" lengthAdjust="spacingAndGlyphs">Time (minutes)</text>
<text transform="translate(17.90 856.25) rotate(-90)" font-size="14.2" text-anchor="middle" textLength="82.6" lengthAdjust="spacingAndGlyphs">nM Thrombin</text>
<text x="4.3" y="753" font-size="17" font-weight="bold" fill="#000">G</text>
<path d="M48.4 952.9L49.2 952.9L50.0 952.9L50.8 952.9L51.5 952.9L52.3 952.9L53.1 952.9L53.9 952.8L54.7 952.8L55.5 952.8L56.2 952.8L57.0 952.8L57.8 952.8L58.6 952.8L59.4 952.8L60.2 952.8L61.0 952.8L61.7 952.8L62.5 952.8L63.3 952.7L64.1 952.7L64.9 952.7L65.7 952.7L66.5 952.7L67.2 952.6L68.0 952.5L68.8 952.4L69.6 952.1L70.4 951.6L71.2 950.8L72.0 948.9L72.7 946.3L73.5 942.8L74.3 938.3L75.1 932.0L75.9 924.0L76.7 915.2L77.4 905.0L78.2 894.1L79.0 883.3L79.8 872.4L80.6 861.4L81.4 851.2L82.2 842.2L82.9 833.7L83.7 825.8L84.5 818.5L85.3 812.0L86.1 805.9L86.9 800.7L87.7 797.3L88.4 794.4L89.2 792.3L90.0 791.3L90.8 792.1L91.6 794.6L92.4 797.7L93.1 801.6L93.9 806.6L94.7 812.3L95.5 817.8L96.3 823.3L97.1 829.0L97.9 834.8L98.6 840.6L99.4 846.4L100.2 852.2L101.0 857.9L101.8 863.4L102.6 868.6L103.3 873.8L104.1 878.7L104.9 883.1L105.7 887.1L106.5 890.8L107.3 894.2L108.1 897.5L108.8 900.6L109.6 903.5L110.4 906.3L111.2 908.9L112.0 911.4L112.8 913.9L113.6 916.1L114.3 918.0L115.1 919.9L115.9 921.6L116.7 923.3L117.5 924.9L118.3 926.5L119.1 928.1L119.8 929.5L120.6 930.7L121.4 931.8L122.2 932.8L123.0 933.7L123.8 934.6L124.5 935.4L125.3 936.3L126.1 937.1L126.9 938.0L127.7 938.6L128.5 939.3L129.3 939.8L130.0 940.3L130.8 941.0L131.6 941.7L132.4 942.3L133.2 942.9L134.0 943.0L134.8 943.1L135.5 943.3L136.3 943.5L137.1 943.9L137.9 944.3L138.7 944.7L139.5 945.0L140.2 945.7L141.0 946.3L141.8 946.9L142.6 947.5L143.4 947.6L144.2 947.7L145.0 947.7L145.7 947.8L146.5 948.0L147.3 948.2L148.1 948.4L148.9 948.6L149.7 948.8L150.4 948.9L151.2 949.1L152.0 949.2L152.8 949.3L153.6 949.4L154.4 949.5L155.2 949.6L155.9 949.8L156.7 950.0L157.5 950.1L158.3 950.3L159.1 950.4L159.9 950.4L160.7 950.5L161.4 950.5L162.2 950.6L163.0 950.7L163.8 950.8L164.6 950.9L165.4 951.1L166.2 951.3L166.9 951.5L167.7 951.6L168.5 951.7L169.3 951.7L170.1 951.0L170.9 950.2L171.6 950.1L172.4 950.8L173.2 951.9L174.0 952.6L174.8 952.6L175.6 952.6L176.4 952.6L177.1 952.5L177.9 952.5L178.7 952.6L179.5 952.6L180.3 952.6L181.1 952.9L181.9 952.9L182.6 952.9L183.4 952.9L184.2 952.9L185.0 952.9L185.8 952.9L186.6 952.9L187.3 952.9L188.1 952.9L188.9 952.9L189.7 952.9L190.5 952.9L191.3 952.9L192.1 952.9L192.8 952.9L193.6 952.9L194.4 952.9L195.2 952.9L196.0 952.9L196.8 952.9L197.6 952.9L198.3 952.9L199.1 952.9L199.9 952.9L200.7 952.9L201.5 952.9L202.3 952.9L203.0 952.9L203.8 952.9L204.6 952.9L205.4 952.9L206.2 952.9L207.0 952.9L207.8 952.9L208.5 952.9L209.3 952.9L210.1 952.9L210.9 952.9L211.7 952.9L212.5 952.9L213.2 952.9L214.0 952.9L214.8 952.9L215.6 952.9L216.4 952.9L217.2 952.9L218.0 952.9L218.7 952.9L219.5 952.9L220.3 952.9L221.1 952.9L221.9 952.9L222.7 952.9L223.5 952.9L224.2 952.9L225.0 952.9L225.8 952.9L226.6 952.9L227.4 952.9L228.2 952.9L229.0 952.9L229.7 952.9L230.5 952.9L231.3 952.9L232.1 952.9L232.9 952.9L233.7 952.9L234.4 952.9L235.2 952.9L236.0 952.9L236.8 952.9" fill="none" stroke="#111" stroke-width="1.35" stroke-linejoin="miter" stroke-miterlimit="6"/>
<path d="M48.4 952.9L49.2 952.9L50.0 952.9L50.8 952.9L51.5 952.9L52.3 952.9L53.1 952.9L53.9 952.9L54.7 952.9L55.5 952.9L56.2 952.9L57.0 952.9L57.8 952.9L58.6 952.9L59.4 952.9L60.2 952.9L61.0 952.9L61.7 952.9L62.5 952.9L63.3 952.9L64.1 952.9L64.9 952.9L65.7 952.9L66.5 952.9L67.2 952.9L68.0 952.9L68.8 952.9L69.6 952.9L70.4 952.9L71.2 952.9L72.0 952.9L72.7 952.9L73.5 952.8L74.3 952.4L75.1 951.9L75.9 951.0L76.7 949.7L77.4 948.0L78.2 946.0L79.0 943.7L79.8 941.2L80.6 938.6L81.4 935.8L82.2 932.1L82.9 927.5L83.7 922.3L84.5 916.7L85.3 910.9L86.1 905.2L86.9 899.8L87.7 894.8L88.4 889.7L89.2 884.4L90.0 879.2L90.8 874.1L91.6 869.3L92.4 864.8L93.1 860.9L93.9 857.5L94.7 854.1L95.5 850.7L96.3 847.5L97.1 844.6L97.9 842.1L98.6 840.3L99.4 839.3L100.2 839.1L101.0 839.5L101.8 840.3L102.6 841.4L103.3 842.8L104.1 844.3L104.9 845.9L105.7 847.6L106.5 849.2L107.3 851.2L108.1 853.6L108.8 856.2L109.6 859.0L110.4 862.0L111.2 865.0L112.0 868.0L112.8 870.8L113.6 873.5L114.3 876.0L115.1 878.5L115.9 880.9L116.7 883.4L117.5 885.8L118.3 888.1L119.1 890.5L119.8 892.8L120.6 895.0L121.4 897.2L122.2 899.4L123.0 901.5L123.8 903.7L124.5 905.8L125.3 907.8L126.1 909.8L126.9 911.8L127.7 913.6L128.5 915.4L129.3 917.1L130.0 918.8L130.8 920.4L131.6 922.0L132.4 923.6L133.2 925.1L134.0 926.6L134.8 928.1L135.5 929.4L136.3 930.6L137.1 931.5L137.9 932.2L138.7 932.8L139.5 933.2L140.2 934.0L141.0 934.8L141.8 935.5L142.6 936.2L143.4 937.1L144.2 938.1L145.0 939.1L145.7 940.1L146.5 940.2L147.3 940.2L148.1 940.1L148.9 939.9L149.7 940.5L150.4 941.1L151.2 941.7L152.0 942.4L152.8 943.1L153.6 943.8L154.4 944.4L155.2 945.1L155.9 944.4L156.7 943.7L157.5 943.0L158.3 942.3L159.1 942.8L159.9 943.2L160.7 943.7L161.4 944.1L162.2 943.9L163.0 943.6L163.8 943.4L164.6 943.1L165.4 943.5L166.2 944.0L166.9 944.4L167.7 944.9L168.5 945.7L169.3 946.5L170.1 947.3L170.9 948.1L171.6 947.6L172.4 947.2L173.2 946.7L174.0 946.2L174.8 946.2L175.6 946.1L176.4 946.1L177.1 946.0L177.9 946.0L178.7 946.0L179.5 946.0L180.3 946.0L181.1 946.6L181.9 947.3L182.6 947.9L183.4 948.5L184.2 948.4L185.0 948.2L185.8 948.1L186.6 948.0L187.3 947.9L188.1 947.8L188.9 947.7L189.7 947.6L190.5 948.1L191.3 948.6L192.1 949.1L192.8 949.6L193.6 949.0L194.4 948.5L195.2 948.0L196.0 947.5L196.8 947.6L197.6 947.7L198.3 947.8L199.1 947.9L199.9 948.5L200.7 949.1L201.5 949.7L202.3 950.3L203.0 949.9L203.8 949.5L204.6 949.2L205.4 948.8L206.2 949.0L207.0 949.2L207.8 949.4L208.5 949.6L209.3 949.8L210.1 949.9L210.9 950.1L211.7 950.2L212.5 950.0L213.2 949.8L214.0 949.5L214.8 949.3L215.6 949.1L216.4 949.0L217.2 948.8L218.0 948.6L218.7 948.9L219.5 949.2L220.3 949.5L221.1 949.8L221.9 950.1L222.7 950.3L223.5 950.6L224.2 950.9L225.0 950.7L225.8 950.5L226.6 950.4L227.4 950.2L228.2 950.1L229.0 950.0L229.7 949.9L230.5 949.8L231.3 949.7L232.1 949.7L232.9 949.7L233.7 949.6L234.4 949.8L235.2 949.9L236.0 950.1L236.8 950.2" fill="none" stroke="#111" stroke-width="1.45" stroke-dasharray="2.4 1.9" stroke-linejoin="round"/>
<path d="M48.4 952.9L49.2 952.9L50.0 952.9L50.8 952.9L51.5 952.9L52.3 952.9L53.1 952.9L53.9 952.9L54.7 952.9L55.5 952.9L56.2 952.9L57.0 952.9L57.8 952.9L58.6 952.9L59.4 952.9L60.2 952.9L61.0 952.9L61.7 952.9L62.5 952.9L63.3 952.9L64.1 952.9L64.9 952.9L65.7 952.9L66.5 952.9L67.2 952.9L68.0 952.9L68.8 952.9L69.6 952.9L70.4 952.9L71.2 952.9L72.0 952.9L72.7 952.9L73.5 952.9L74.3 952.9L75.1 952.7L75.9 952.2L76.7 951.6L77.4 950.6L78.2 949.3L79.0 947.7L79.8 945.9L80.6 944.0L81.4 941.9L82.2 939.9L82.9 937.7L83.7 935.2L84.5 932.3L85.3 929.3L86.1 926.2L86.9 923.1L87.7 920.1L88.4 917.3L89.2 914.6L90.0 911.8L90.8 908.9L91.6 906.1L92.4 903.4L93.1 901.1L93.9 899.3L94.7 898.0L95.5 897.2L96.3 896.5L97.1 895.8L97.9 895.2L98.6 894.7L99.4 894.4L100.2 894.1L101.0 894.0L101.8 894.0L102.6 894.2L103.3 894.4L104.1 894.7L104.9 895.0L105.7 895.4L106.5 895.9L107.3 896.4L108.1 896.9L108.8 897.4L109.6 898.0L110.4 898.5L111.2 899.0L112.0 899.6L112.8 900.2L113.6 900.9L114.3 901.7L115.1 902.5L115.9 903.3L116.7 904.2L117.5 905.1L118.3 906.0L119.1 906.8L119.8 907.7L120.6 908.5L121.4 909.4L122.2 910.1L123.0 911.0L123.8 911.8L124.5 912.5L125.3 913.2L126.1 913.9L126.9 914.5L127.7 915.4L128.5 916.5L129.3 917.6L130.0 918.8L130.8 919.6L131.6 920.4L132.4 921.2L133.2 922.0L134.0 922.2L134.8 922.4L135.5 922.4L136.3 922.3L137.1 923.3L137.9 924.4L138.7 925.4L139.5 926.6L140.2 927.0L141.0 927.5L141.8 927.9L142.6 928.4L143.4 928.1L144.2 927.8L145.0 927.6L145.7 927.3L146.5 927.9L147.3 928.5L148.1 929.1L148.9 929.8L149.7 930.3L150.4 930.8L151.2 931.3L152.0 931.8L152.8 931.9L153.6 932.0L154.4 932.1L155.2 932.2L155.9 932.8L156.7 933.4L157.5 934.0L158.3 934.6L159.1 934.9L159.9 935.2L160.7 935.5L161.4 935.8L162.2 936.5L163.0 937.1L163.8 937.8L164.6 938.4L165.4 938.9L166.2 939.3L166.9 939.8L167.7 940.2L168.5 941.4L169.3 942.5L170.1 943.7L170.9 944.9L171.6 944.0L172.4 943.1L173.2 942.1L174.0 941.2L174.8 941.5L175.6 941.9L176.4 942.2L177.1 942.4L177.9 943.5L178.7 944.6L179.5 945.7L180.3 946.7L181.1 946.4L181.9 946.1L182.6 945.8L183.4 945.5L184.2 946.6L185.0 947.6L185.8 948.7L186.6 949.7L187.3 949.1L188.1 948.4L188.9 947.8L189.7 947.2L190.5 947.2L191.3 947.1L192.1 947.0L192.8 947.0L193.6 947.5L194.4 948.0L195.2 948.5L196.0 948.9L196.8 948.8L197.6 948.8L198.3 948.7L199.1 948.6L199.9 948.1L200.7 947.7L201.5 947.2L202.3 946.8L203.0 947.6L203.8 948.4L204.6 949.2L205.4 950.0L206.2 949.6L207.0 949.3L207.8 948.9L208.5 948.5L209.3 949.0L210.1 949.4L210.9 949.8L211.7 950.2L212.5 949.9L213.2 949.6L214.0 949.2L214.8 948.9L215.6 948.3L216.4 947.7L217.2 947.2L218.0 946.6L218.7 946.9L219.5 947.2L220.3 947.5L221.1 947.8L221.9 948.5L222.7 949.2L223.5 949.8L224.2 950.5L225.0 949.5L225.8 948.6L226.6 947.7L227.4 946.7L228.2 946.9L229.0 947.2L229.7 947.4L230.5 947.6L231.3 947.8L232.1 947.9L232.9 948.1L233.7 948.3L234.4 948.5L235.2 948.8L236.0 949.0L236.8 949.3" fill="none" stroke="#111" stroke-width="1.45" stroke-dasharray="5 2.3" stroke-linejoin="round"/>
<path d="M101.4 793.5H115.5" stroke="#111" stroke-width="1.35"/>
<text x="117.8" y="798.1" font-size="12.6" textLength="46.7" lengthAdjust="spacingAndGlyphs">No TFPI</text>
<path d="M101.5 838H122.7" stroke="#111" stroke-width="1.45" stroke-dasharray="2.4 1.9"/>
<text x="123.7" y="842.3" font-size="12.9" textLength="72.6" lengthAdjust="spacingAndGlyphs">TFPI R237Q</text>
<text x="124.4" y="857.2" font-size="12.7" textLength="123" lengthAdjust="spacingAndGlyphs">+ protein S antibodies</text>
<path d="M126.7 897.1H139.7" stroke="#111" stroke-width="1.45" stroke-dasharray="5.2 1.5"/>
<text x="142.3" y="901.4" font-size="12.9" textLength="72.6" lengthAdjust="spacingAndGlyphs">TFPI R237Q</text>
</g>
<g id="panel-H">
<path d="M315.00 762.20V952.90H504.10M312.40 952.90H315.00M312.40 914.86H315.00M312.40 876.82H315.00M312.40 838.78H315.00M312.40 800.74H315.00M312.40 762.70H315.00M315.00 952.90v2.6M346.43 952.90v2.6M377.87 952.90v2.6M409.30 952.90v2.6M440.73 952.90v2.6M472.17 952.90v2.6M503.60 952.90v2.6" fill="none" stroke="#333" stroke-width="1.1"/>
<text x="311.50" y="956.90" font-size="11.7" text-anchor="end">0</text>
<text x="311.50" y="918.86" font-size="11.7" text-anchor="end">50</text>
<text x="311.50" y="880.82" font-size="11.7" text-anchor="end">100</text>
<text x="311.50" y="842.78" font-size="11.7" text-anchor="end">150</text>
<text x="311.50" y="804.74" font-size="11.7" text-anchor="end">200</text>
<text x="311.50" y="766.70" font-size="11.7" text-anchor="end">250</text>
<text x="315.00" y="966.20" font-size="11.7" text-anchor="middle">0.00</text>
<text x="346.43" y="966.20" font-size="11.7" text-anchor="middle">0.25</text>
<text x="377.87" y="966.20" font-size="11.7" text-anchor="middle">0.50</text>
<text x="409.30" y="966.20" font-size="11.7" text-anchor="middle">0.75</text>
<text x="440.73" y="966.20" font-size="11.7" text-anchor="middle">1.00</text>
<text x="472.17" y="966.20" font-size="11.7" text-anchor="middle">1.25</text>
<text x="503.60" y="966.20" font-size="11.7" text-anchor="middle">1.50</text>
<text x="407.60" y="984.90" font-size="14.2" text-anchor="middle">TFPI (nM)</text>
<text transform="translate(285.00 856.30) rotate(-90)" font-size="14.2" text-anchor="middle">Peak Thrombin</text>
<text x="273.9" y="753.7" font-size="17" font-weight="bold" fill="#000">H</text>
<path d="M315.0 800.7L318.1 809.3L321.3 817.2L324.4 824.6L327.6 831.4L330.7 837.6L333.9 843.5L337.0 848.8L340.1 853.8L343.3 858.4L346.4 862.7L349.6 866.6L352.7 870.3L355.9 873.7L359.0 876.8L362.1 879.7L365.3 882.4L368.4 884.9L371.6 887.1L374.7 889.3L377.9 891.2L381.0 893.1L384.2 894.7L387.3 896.3L390.4 897.7L393.6 899.1L396.7 900.3L399.9 901.4L403.0 902.5L406.2 903.5L409.3 904.4L412.4 905.2L415.6 906.0L418.7 906.7L421.9 907.4L425.0 908.0L428.2 908.6L431.3 909.1L434.4 909.6L437.6 910.0L440.7 910.4L443.9 910.8L447.0 911.2L450.2 911.5L453.3 911.8L456.5 912.1L459.6 912.4L462.7 912.6L465.9 912.8L469.0 913.0L472.2 913.2L475.3 913.4L478.5 913.6L481.6 913.7L484.7 913.9L487.9 914.0L491.0 914.1L494.2 914.2L497.3 914.3L500.5 914.4L503.6 914.5" fill="none" stroke="#111" stroke-width="1.1"/>
<path d="M315.0 800.7L317.4 811.3L319.7 821.1L322.1 830.1L324.4 838.4L326.8 846.1L329.1 853.1L331.5 859.6L333.9 865.6L336.2 871.2L338.6 876.3L340.9 880.9L343.3 885.3L345.6 889.3L348.0 892.9L350.4 896.3L352.7 899.4L355.1 902.3L357.4 905.0L359.8 907.4L362.1 909.7L364.5 911.7L366.9 913.7L369.2 915.4L371.6 917.0L373.9 918.5L376.3 919.9L378.7 921.2L381.0 922.4L383.4 923.4L385.7 924.4L388.1 925.4L390.4 926.2L392.8 927.0L395.2 927.7L397.5 928.4L399.9 929.0L402.2 929.5L404.6 930.1L406.9 930.5L409.3 931.0" fill="none" stroke="#111" stroke-width="1.05"/>
<path d="M315.0 800.7L317.4 811.7L319.7 821.7L322.1 830.9L324.4 839.3L326.8 847.1L329.1 854.2L331.5 860.7L333.9 866.7L336.2 872.2L338.6 877.3L340.9 881.9L343.3 886.2L345.6 890.1L348.0 893.7L350.4 897.0L352.7 900.0L355.1 902.8L357.4 905.3L359.8 907.7L362.1 909.8L364.5 911.8L366.9 913.6L369.2 915.2L371.6 916.8L373.9 918.2L376.3 919.5L378.7 920.6L381.0 921.7L383.4 922.7L385.7 923.6L388.1 924.5L390.4 925.2L392.8 926.0L395.2 926.6L397.5 927.2L399.9 927.7L402.2 928.3L404.6 928.7L406.9 929.1L409.3 929.5" fill="none" stroke="#111" stroke-width="1.05"/>
<path d="M315.0 800.7L317.4 812.0L319.7 822.3L322.1 831.7L324.4 840.3L326.8 848.2L329.1 855.3L331.5 861.9L333.9 867.9L336.2 873.4L338.6 878.4L340.9 883.0L343.3 887.2L345.6 891.0L348.0 894.5L350.4 897.7L352.7 900.6L355.1 903.3L357.4 905.7L359.8 907.9L362.1 910.0L364.5 911.8L366.9 913.5L369.2 915.1L371.6 916.5L373.9 917.8L376.3 919.0L378.7 920.1L381.0 921.1L383.4 922.0L385.7 922.8L388.1 923.6L390.4 924.3L392.8 924.9L395.2 925.5L397.5 926.0L399.9 926.5L402.2 926.9L404.6 927.3L406.9 927.7L409.3 928.0" fill="none" stroke="#111" stroke-width="1.05"/>
<path d="M315.00 808.73V784.23M312.50 808.73h5.0M312.50 784.23h5.0" fill="none" stroke="#111" stroke-width="1"/>
<rect x="312.55" y="794.49" width="4.9" height="4.9" fill="#000"/>
<path d="M331.22 863.13V847.30M328.72 863.13h5.0M328.72 847.30h5.0" fill="none" stroke="#111" stroke-width="1"/>
<rect x="328.77" y="852.69" width="4.9" height="4.9" fill="#000"/>
<path d="M346.43 905.35V896.22M343.93 905.35h5.0M343.93 896.22h5.0" fill="none" stroke="#111" stroke-width="1"/>
<rect x="343.98" y="898.41" width="4.9" height="4.9" fill="#000"/>
<path d="M377.87 918.28V908.39M375.37 918.28h5.0M375.37 908.39h5.0" fill="none" stroke="#111" stroke-width="1"/>
<path d="M377.87 916.76V909.91M375.37 916.76h5.0M375.37 909.91h5.0" fill="none" stroke="#111" stroke-width="1"/>
<rect x="375.42" y="911.27" width="4.9" height="4.9" fill="#000"/>
<path d="M375.22 914.71h5.3l-2.65 -4.64z" fill="#000"/>
<rect x="406.85" y="931.96" width="4.9" height="4.9" fill="#000"/>
<path d="M406.65 936.01h5.3l-2.65 -4.64z" fill="#000"/>
<path d="M343.78 869.36h5.3l-2.65 4.64z" fill="#000"/>
<path d="M375.22 879.78h5.3l-2.65 4.64z" fill="#000"/>
<path d="M406.65 894.92h5.3l-2.65 4.64z" fill="#000"/>
<path d="M500.95 917.14h5.3l-2.65 4.64z" fill="#000"/>
<path d="M408.80 795.97h4.4l-2.2 4.62z" fill="#000"/>
<rect x="408.6" y="811.6" width="4.8" height="4.8" fill="#000"/>
<path d="M408.80 832.33h4.4l-2.2 -4.62z" fill="#000"/>
<text x="420.3" y="802.4" font-size="12.9" textLength="72" lengthAdjust="spacingAndGlyphs">TFPI E226Q</text>
<text x="420.3" y="818.8" font-size="12.9" textLength="51.3" lengthAdjust="spacingAndGlyphs">WT TFPI</text>
<text x="420.3" y="834.7" font-size="12.9" textLength="72.6" lengthAdjust="spacingAndGlyphs">TFPI R199Q</text>
</g>
</g></svg>
</body></html>
